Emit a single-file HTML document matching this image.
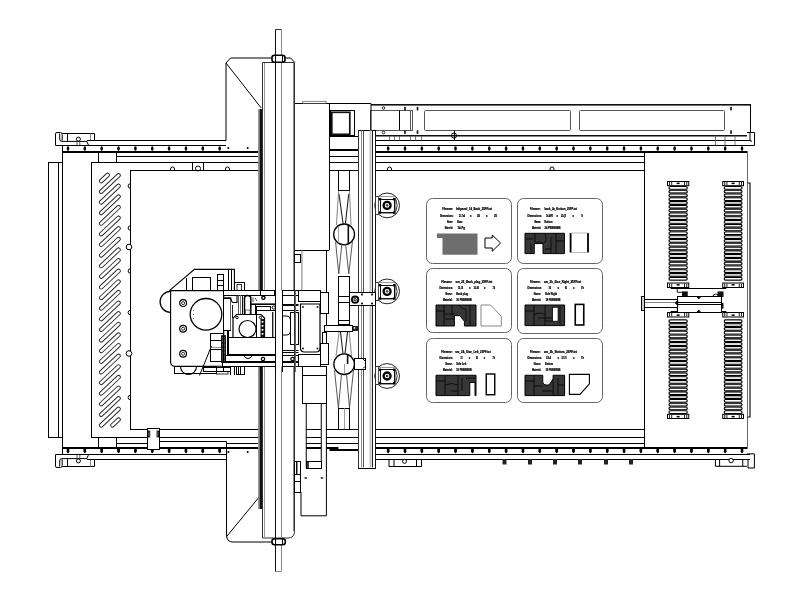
<!DOCTYPE html>
<html><head><meta charset="utf-8"><style>
html,body{margin:0;padding:0;background:#fff;width:800px;height:600px;overflow:hidden}
svg{display:block}
.t{font-family:"Liberation Sans",sans-serif;font-weight:bold}
</style></head><body>
<svg width="800" height="600" viewBox="0 0 800 600" style="will-change:transform">
<rect width="800" height="600" fill="#fff"/>
<ellipse cx="68.00" cy="148.5" rx="1.3" ry="2.2" fill="#000"/>
<path d="M67.00 448.5 H69.00 V452.5 Q68.00 454 67.00 452.5 Z" fill="#000"/>
<rect x="66.70" y="448.5" width="2.6" height="3.5" fill="#000"/>
<ellipse cx="84.85" cy="148.5" rx="1.3" ry="2.2" fill="#000"/>
<path d="M83.85 448.5 H85.85 V452.5 Q84.85 454 83.85 452.5 Z" fill="#000"/>
<rect x="83.55" y="448.5" width="2.6" height="3.5" fill="#000"/>
<ellipse cx="101.70" cy="148.5" rx="1.3" ry="2.2" fill="#000"/>
<path d="M100.70 448.5 H102.70 V452.5 Q101.70 454 100.70 452.5 Z" fill="#000"/>
<rect x="100.40" y="448.5" width="2.6" height="3.5" fill="#000"/>
<ellipse cx="118.55" cy="148.5" rx="1.3" ry="2.2" fill="#000"/>
<path d="M117.55 448.5 H119.55 V452.5 Q118.55 454 117.55 452.5 Z" fill="#000"/>
<rect x="117.25" y="448.5" width="2.6" height="3.5" fill="#000"/>
<ellipse cx="135.40" cy="148.5" rx="1.3" ry="2.2" fill="#000"/>
<path d="M134.40 448.5 H136.40 V452.5 Q135.40 454 134.40 452.5 Z" fill="#000"/>
<rect x="134.10" y="448.5" width="2.6" height="3.5" fill="#000"/>
<ellipse cx="152.25" cy="148.5" rx="1.3" ry="2.2" fill="#000"/>
<path d="M151.25 448.5 H153.25 V452.5 Q152.25 454 151.25 452.5 Z" fill="#000"/>
<rect x="150.95" y="448.5" width="2.6" height="3.5" fill="#000"/>
<ellipse cx="169.10" cy="148.5" rx="1.3" ry="2.2" fill="#000"/>
<path d="M168.10 448.5 H170.10 V452.5 Q169.10 454 168.10 452.5 Z" fill="#000"/>
<rect x="167.80" y="448.5" width="2.6" height="3.5" fill="#000"/>
<ellipse cx="185.95" cy="148.5" rx="1.3" ry="2.2" fill="#000"/>
<path d="M184.95 448.5 H186.95 V452.5 Q185.95 454 184.95 452.5 Z" fill="#000"/>
<rect x="184.65" y="448.5" width="2.6" height="3.5" fill="#000"/>
<ellipse cx="202.80" cy="148.5" rx="1.3" ry="2.2" fill="#000"/>
<path d="M201.80 448.5 H203.80 V452.5 Q202.80 454 201.80 452.5 Z" fill="#000"/>
<rect x="201.50" y="448.5" width="2.6" height="3.5" fill="#000"/>
<ellipse cx="219.65" cy="148.5" rx="1.3" ry="2.2" fill="#000"/>
<path d="M218.65 448.5 H220.65 V452.5 Q219.65 454 218.65 452.5 Z" fill="#000"/>
<rect x="218.35" y="448.5" width="2.6" height="3.5" fill="#000"/>
<ellipse cx="388.15" cy="148.5" rx="1.3" ry="2.2" fill="#000"/>
<path d="M387.15 448.5 H389.15 V452.5 Q388.15 454 387.15 452.5 Z" fill="#000"/>
<rect x="386.85" y="448.5" width="2.6" height="3.5" fill="#000"/>
<ellipse cx="405.00" cy="148.5" rx="1.3" ry="2.2" fill="#000"/>
<path d="M404.00 448.5 H406.00 V452.5 Q405.00 454 404.00 452.5 Z" fill="#000"/>
<rect x="403.70" y="448.5" width="2.6" height="3.5" fill="#000"/>
<ellipse cx="421.85" cy="148.5" rx="1.3" ry="2.2" fill="#000"/>
<path d="M420.85 448.5 H422.85 V452.5 Q421.85 454 420.85 452.5 Z" fill="#000"/>
<rect x="420.55" y="448.5" width="2.6" height="3.5" fill="#000"/>
<ellipse cx="438.70" cy="148.5" rx="1.3" ry="2.2" fill="#000"/>
<path d="M437.70 448.5 H439.70 V452.5 Q438.70 454 437.70 452.5 Z" fill="#000"/>
<rect x="437.40" y="448.5" width="2.6" height="3.5" fill="#000"/>
<ellipse cx="455.55" cy="148.5" rx="1.3" ry="2.2" fill="#000"/>
<path d="M454.55 448.5 H456.55 V452.5 Q455.55 454 454.55 452.5 Z" fill="#000"/>
<rect x="454.25" y="448.5" width="2.6" height="3.5" fill="#000"/>
<ellipse cx="472.40" cy="148.5" rx="1.3" ry="2.2" fill="#000"/>
<path d="M471.40 448.5 H473.40 V452.5 Q472.40 454 471.40 452.5 Z" fill="#000"/>
<rect x="471.10" y="448.5" width="2.6" height="3.5" fill="#000"/>
<ellipse cx="489.25" cy="148.5" rx="1.3" ry="2.2" fill="#000"/>
<path d="M488.25 448.5 H490.25 V452.5 Q489.25 454 488.25 452.5 Z" fill="#000"/>
<rect x="487.95" y="448.5" width="2.6" height="3.5" fill="#000"/>
<ellipse cx="506.10" cy="148.5" rx="1.3" ry="2.2" fill="#000"/>
<path d="M505.10 448.5 H507.10 V452.5 Q506.10 454 505.10 452.5 Z" fill="#000"/>
<rect x="504.80" y="448.5" width="2.6" height="3.5" fill="#000"/>
<ellipse cx="522.95" cy="148.5" rx="1.3" ry="2.2" fill="#000"/>
<path d="M521.95 448.5 H523.95 V452.5 Q522.95 454 521.95 452.5 Z" fill="#000"/>
<rect x="521.65" y="448.5" width="2.6" height="3.5" fill="#000"/>
<ellipse cx="539.80" cy="148.5" rx="1.3" ry="2.2" fill="#000"/>
<path d="M538.80 448.5 H540.80 V452.5 Q539.80 454 538.80 452.5 Z" fill="#000"/>
<rect x="538.50" y="448.5" width="2.6" height="3.5" fill="#000"/>
<ellipse cx="556.65" cy="148.5" rx="1.3" ry="2.2" fill="#000"/>
<path d="M555.65 448.5 H557.65 V452.5 Q556.65 454 555.65 452.5 Z" fill="#000"/>
<rect x="555.35" y="448.5" width="2.6" height="3.5" fill="#000"/>
<ellipse cx="573.50" cy="148.5" rx="1.3" ry="2.2" fill="#000"/>
<path d="M572.50 448.5 H574.50 V452.5 Q573.50 454 572.50 452.5 Z" fill="#000"/>
<rect x="572.20" y="448.5" width="2.6" height="3.5" fill="#000"/>
<ellipse cx="590.35" cy="148.5" rx="1.3" ry="2.2" fill="#000"/>
<path d="M589.35 448.5 H591.35 V452.5 Q590.35 454 589.35 452.5 Z" fill="#000"/>
<rect x="589.05" y="448.5" width="2.6" height="3.5" fill="#000"/>
<ellipse cx="607.20" cy="148.5" rx="1.3" ry="2.2" fill="#000"/>
<path d="M606.20 448.5 H608.20 V452.5 Q607.20 454 606.20 452.5 Z" fill="#000"/>
<rect x="605.90" y="448.5" width="2.6" height="3.5" fill="#000"/>
<ellipse cx="624.05" cy="148.5" rx="1.3" ry="2.2" fill="#000"/>
<path d="M623.05 448.5 H625.05 V452.5 Q624.05 454 623.05 452.5 Z" fill="#000"/>
<rect x="622.75" y="448.5" width="2.6" height="3.5" fill="#000"/>
<ellipse cx="640.90" cy="148.5" rx="1.3" ry="2.2" fill="#000"/>
<path d="M639.90 448.5 H641.90 V452.5 Q640.90 454 639.90 452.5 Z" fill="#000"/>
<rect x="639.60" y="448.5" width="2.6" height="3.5" fill="#000"/>
<ellipse cx="657.75" cy="148.5" rx="1.3" ry="2.2" fill="#000"/>
<path d="M656.75 448.5 H658.75 V452.5 Q657.75 454 656.75 452.5 Z" fill="#000"/>
<rect x="656.45" y="448.5" width="2.6" height="3.5" fill="#000"/>
<ellipse cx="674.60" cy="148.5" rx="1.3" ry="2.2" fill="#000"/>
<path d="M673.60 448.5 H675.60 V452.5 Q674.60 454 673.60 452.5 Z" fill="#000"/>
<rect x="673.30" y="448.5" width="2.6" height="3.5" fill="#000"/>
<ellipse cx="691.45" cy="148.5" rx="1.3" ry="2.2" fill="#000"/>
<path d="M690.45 448.5 H692.45 V452.5 Q691.45 454 690.45 452.5 Z" fill="#000"/>
<rect x="690.15" y="448.5" width="2.6" height="3.5" fill="#000"/>
<ellipse cx="708.30" cy="148.5" rx="1.3" ry="2.2" fill="#000"/>
<path d="M707.30 448.5 H709.30 V452.5 Q708.30 454 707.30 452.5 Z" fill="#000"/>
<rect x="707.00" y="448.5" width="2.6" height="3.5" fill="#000"/>
<ellipse cx="725.15" cy="148.5" rx="1.3" ry="2.2" fill="#000"/>
<path d="M724.15 448.5 H726.15 V452.5 Q725.15 454 724.15 452.5 Z" fill="#000"/>
<rect x="723.85" y="448.5" width="2.6" height="3.5" fill="#000"/>
<ellipse cx="742.00" cy="148.5" rx="1.3" ry="2.2" fill="#000"/>
<path d="M741.00 448.5 H743.00 V452.5 Q742.00 454 741.00 452.5 Z" fill="#000"/>
<rect x="740.70" y="448.5" width="2.6" height="3.5" fill="#000"/>
<g><path d="M55.5 145.5 V134 Q55.5 132.5 57 132.5 H60.5 Q62.2 132.5 62.2 134.5 V140.6 M59.7 133.5 V139 Q59.7 141.4 62 141.4 H86.9 L88.5 145.3 M62.2 133.5 H94.5 V140.5 M67.5 133.5 V141.4 M55.5 145.5 H88.5" stroke="#000" stroke-width="1" fill="none"/><path d="M90.5 133.5 V140.5" stroke="#888" stroke-width="1"/><circle cx="78.4" cy="139.1" r="2" stroke="#000" stroke-width="1" fill="#fff"/><path d="M77 141 V145.5 M79.8 141 V145.5" stroke="#333" stroke-width="0.8"/><line x1="86.9" y1="140.5" x2="226" y2="140.5" stroke="#000" stroke-width="1"/><line x1="62.5" y1="145.5" x2="226" y2="145.5" stroke="#000" stroke-width="1"/><line x1="62.5" y1="152" x2="258.5" y2="152" stroke="#000" stroke-width="2"/><line x1="375" y1="140.5" x2="750" y2="140.5" stroke="#000" stroke-width="1"/><line x1="375" y1="145.5" x2="750" y2="145.5" stroke="#000" stroke-width="1"/><line x1="375" y1="152" x2="747.5" y2="152" stroke="#000" stroke-width="2"/><ellipse cx="228.3" cy="148" rx="1" ry="1" fill="#000"/><ellipse cx="247.7" cy="148" rx="1" ry="1" fill="#000"/><line x1="329.5" y1="156.5" x2="358" y2="156.5" stroke="#000" stroke-width="1"/><line x1="375" y1="156.5" x2="644" y2="156.5" stroke="#000" stroke-width="1"/><line x1="91" y1="162.5" x2="258.5" y2="162.5" stroke="#000" stroke-width="1"/><line x1="329.5" y1="162.5" x2="358" y2="162.5" stroke="#000" stroke-width="1"/><line x1="375" y1="162.5" x2="644" y2="162.5" stroke="#000" stroke-width="1"/><line x1="98.5" y1="151.5" x2="98.5" y2="162.5" stroke="#000" stroke-width="1"/><line x1="116.5" y1="151.5" x2="116.5" y2="162.5" stroke="#000" stroke-width="1"/><line x1="130" y1="170.5" x2="258.5" y2="170.5" stroke="#000" stroke-width="1"/><line x1="329.5" y1="170.5" x2="358" y2="170.5" stroke="#000" stroke-width="1"/><line x1="375" y1="170.5" x2="644" y2="170.5" stroke="#000" stroke-width="1"/><line x1="329.5" y1="150" x2="358" y2="150" stroke="#000" stroke-width="2"/><line x1="48" y1="162.5" x2="62.5" y2="162.5" stroke="#000" stroke-width="1"/><rect x="667.5" y="181.5" width="21.25" height="4.2" fill="#fff" stroke="#000" stroke-width="1"/><rect x="669.00" y="182" width="1" height="3.2" fill="#222"/><rect x="671.20" y="182" width="1" height="3.2" fill="#222"/><rect x="684.05" y="182" width="1" height="3.2" fill="#222"/><rect x="686.25" y="182" width="1" height="3.2" fill="#222"/><rect x="676.625" y="182.6" width="3" height="1.5" fill="#000"/><rect x="669.0" y="186.50" width="18.25" height="2.7" rx="1.3" fill="#fff" stroke="#000" stroke-width="1.1"/><rect x="670.5" y="187.30" width="15.25" height="0.9" fill="#fff"/><rect x="669.0" y="190.29" width="18.25" height="2.7" rx="1.3" fill="#bdbdbd" stroke="#000" stroke-width="1.1"/><rect x="670.5" y="191.09" width="15.25" height="0.9" fill="#fff"/><rect x="669.0" y="194.07" width="18.25" height="2.7" rx="1.3" fill="#bdbdbd" stroke="#000" stroke-width="1.1"/><rect x="670.5" y="194.88" width="15.25" height="0.9" fill="#fff"/><rect x="669.0" y="197.86" width="18.25" height="2.7" rx="1.3" fill="#fff" stroke="#000" stroke-width="1.1"/><rect x="670.5" y="198.66" width="15.25" height="0.9" fill="#fff"/><rect x="669.0" y="201.65" width="18.25" height="2.7" rx="1.3" fill="#bdbdbd" stroke="#000" stroke-width="1.1"/><rect x="670.5" y="202.45" width="15.25" height="0.9" fill="#fff"/><rect x="669.0" y="205.44" width="18.25" height="2.7" rx="1.3" fill="#bdbdbd" stroke="#000" stroke-width="1.1"/><rect x="670.5" y="206.24" width="15.25" height="0.9" fill="#fff"/><rect x="669.0" y="209.22" width="18.25" height="2.7" rx="1.3" fill="#fff" stroke="#000" stroke-width="1.1"/><rect x="670.5" y="210.02" width="15.25" height="0.9" fill="#fff"/><rect x="669.0" y="213.01" width="18.25" height="2.7" rx="1.3" fill="#bdbdbd" stroke="#000" stroke-width="1.1"/><rect x="670.5" y="213.81" width="15.25" height="0.9" fill="#fff"/><rect x="669.0" y="216.80" width="18.25" height="2.7" rx="1.3" fill="#bdbdbd" stroke="#000" stroke-width="1.1"/><rect x="670.5" y="217.60" width="15.25" height="0.9" fill="#fff"/><rect x="669.0" y="220.59" width="18.25" height="2.7" rx="1.3" fill="#fff" stroke="#000" stroke-width="1.1"/><rect x="670.5" y="221.39" width="15.25" height="0.9" fill="#fff"/><rect x="669.0" y="224.37" width="18.25" height="2.7" rx="1.3" fill="#bdbdbd" stroke="#000" stroke-width="1.1"/><rect x="670.5" y="225.17" width="15.25" height="0.9" fill="#fff"/><rect x="669.0" y="228.16" width="18.25" height="2.7" rx="1.3" fill="#bdbdbd" stroke="#000" stroke-width="1.1"/><rect x="670.5" y="228.96" width="15.25" height="0.9" fill="#fff"/><rect x="669.0" y="231.95" width="18.25" height="2.7" rx="1.3" fill="#fff" stroke="#000" stroke-width="1.1"/><rect x="670.5" y="232.75" width="15.25" height="0.9" fill="#fff"/><rect x="669.0" y="235.74" width="18.25" height="2.7" rx="1.3" fill="#bdbdbd" stroke="#000" stroke-width="1.1"/><rect x="670.5" y="236.54" width="15.25" height="0.9" fill="#fff"/><rect x="669.0" y="239.52" width="18.25" height="2.7" rx="1.3" fill="#bdbdbd" stroke="#000" stroke-width="1.1"/><rect x="670.5" y="240.32" width="15.25" height="0.9" fill="#fff"/><rect x="669.0" y="243.31" width="18.25" height="2.7" rx="1.3" fill="#fff" stroke="#000" stroke-width="1.1"/><rect x="670.5" y="244.11" width="15.25" height="0.9" fill="#fff"/><rect x="669.0" y="247.10" width="18.25" height="2.7" rx="1.3" fill="#bdbdbd" stroke="#000" stroke-width="1.1"/><rect x="670.5" y="247.90" width="15.25" height="0.9" fill="#fff"/><rect x="669.0" y="250.89" width="18.25" height="2.7" rx="1.3" fill="#bdbdbd" stroke="#000" stroke-width="1.1"/><rect x="670.5" y="251.69" width="15.25" height="0.9" fill="#fff"/><rect x="669.0" y="254.67" width="18.25" height="2.7" rx="1.3" fill="#fff" stroke="#000" stroke-width="1.1"/><rect x="670.5" y="255.47" width="15.25" height="0.9" fill="#fff"/><rect x="669.0" y="258.46" width="18.25" height="2.7" rx="1.3" fill="#bdbdbd" stroke="#000" stroke-width="1.1"/><rect x="670.5" y="259.26" width="15.25" height="0.9" fill="#fff"/><rect x="669.0" y="262.25" width="18.25" height="2.7" rx="1.3" fill="#bdbdbd" stroke="#000" stroke-width="1.1"/><rect x="670.5" y="263.05" width="15.25" height="0.9" fill="#fff"/><rect x="669.0" y="266.04" width="18.25" height="2.7" rx="1.3" fill="#fff" stroke="#000" stroke-width="1.1"/><rect x="670.5" y="266.84" width="15.25" height="0.9" fill="#fff"/><rect x="669.0" y="269.82" width="18.25" height="2.7" rx="1.3" fill="#bdbdbd" stroke="#000" stroke-width="1.1"/><rect x="670.5" y="270.62" width="15.25" height="0.9" fill="#fff"/><rect x="669.0" y="273.61" width="18.25" height="2.7" rx="1.3" fill="#bdbdbd" stroke="#000" stroke-width="1.1"/><rect x="670.5" y="274.41" width="15.25" height="0.9" fill="#fff"/><rect x="669.0" y="277.40" width="18.25" height="2.7" rx="1.3" fill="#fff" stroke="#000" stroke-width="1.1"/><rect x="670.5" y="278.20" width="15.25" height="0.9" fill="#fff"/><rect x="667.5" y="283.0" width="21.25" height="4.5" fill="#fff" stroke="#000" stroke-width="1"/><rect x="669.00" y="283.5" width="1" height="3.5" fill="#222"/><rect x="671.20" y="283.5" width="1" height="3.5" fill="#222"/><rect x="684.05" y="283.5" width="1" height="3.5" fill="#222"/><rect x="686.25" y="283.5" width="1" height="3.5" fill="#222"/><rect x="676.625" y="284.1" width="3" height="1.5" fill="#000"/><rect x="722.75" y="181.5" width="20.75" height="4.2" fill="#fff" stroke="#000" stroke-width="1"/><rect x="724.25" y="182" width="1" height="3.2" fill="#222"/><rect x="726.45" y="182" width="1" height="3.2" fill="#222"/><rect x="738.80" y="182" width="1" height="3.2" fill="#222"/><rect x="741.00" y="182" width="1" height="3.2" fill="#222"/><rect x="731.625" y="182.6" width="3" height="1.5" fill="#000"/><rect x="724.25" y="186.50" width="17.75" height="2.7" rx="1.3" fill="#fff" stroke="#000" stroke-width="1.1"/><rect x="725.75" y="187.30" width="14.75" height="0.9" fill="#fff"/><rect x="724.25" y="190.29" width="17.75" height="2.7" rx="1.3" fill="#bdbdbd" stroke="#000" stroke-width="1.1"/><rect x="725.75" y="191.09" width="14.75" height="0.9" fill="#fff"/><rect x="724.25" y="194.07" width="17.75" height="2.7" rx="1.3" fill="#bdbdbd" stroke="#000" stroke-width="1.1"/><rect x="725.75" y="194.88" width="14.75" height="0.9" fill="#fff"/><rect x="724.25" y="197.86" width="17.75" height="2.7" rx="1.3" fill="#fff" stroke="#000" stroke-width="1.1"/><rect x="725.75" y="198.66" width="14.75" height="0.9" fill="#fff"/><rect x="724.25" y="201.65" width="17.75" height="2.7" rx="1.3" fill="#bdbdbd" stroke="#000" stroke-width="1.1"/><rect x="725.75" y="202.45" width="14.75" height="0.9" fill="#fff"/><rect x="724.25" y="205.44" width="17.75" height="2.7" rx="1.3" fill="#bdbdbd" stroke="#000" stroke-width="1.1"/><rect x="725.75" y="206.24" width="14.75" height="0.9" fill="#fff"/><rect x="724.25" y="209.22" width="17.75" height="2.7" rx="1.3" fill="#fff" stroke="#000" stroke-width="1.1"/><rect x="725.75" y="210.02" width="14.75" height="0.9" fill="#fff"/><rect x="724.25" y="213.01" width="17.75" height="2.7" rx="1.3" fill="#bdbdbd" stroke="#000" stroke-width="1.1"/><rect x="725.75" y="213.81" width="14.75" height="0.9" fill="#fff"/><rect x="724.25" y="216.80" width="17.75" height="2.7" rx="1.3" fill="#bdbdbd" stroke="#000" stroke-width="1.1"/><rect x="725.75" y="217.60" width="14.75" height="0.9" fill="#fff"/><rect x="724.25" y="220.59" width="17.75" height="2.7" rx="1.3" fill="#fff" stroke="#000" stroke-width="1.1"/><rect x="725.75" y="221.39" width="14.75" height="0.9" fill="#fff"/><rect x="724.25" y="224.37" width="17.75" height="2.7" rx="1.3" fill="#bdbdbd" stroke="#000" stroke-width="1.1"/><rect x="725.75" y="225.17" width="14.75" height="0.9" fill="#fff"/><rect x="724.25" y="228.16" width="17.75" height="2.7" rx="1.3" fill="#bdbdbd" stroke="#000" stroke-width="1.1"/><rect x="725.75" y="228.96" width="14.75" height="0.9" fill="#fff"/><rect x="724.25" y="231.95" width="17.75" height="2.7" rx="1.3" fill="#fff" stroke="#000" stroke-width="1.1"/><rect x="725.75" y="232.75" width="14.75" height="0.9" fill="#fff"/><rect x="724.25" y="235.74" width="17.75" height="2.7" rx="1.3" fill="#bdbdbd" stroke="#000" stroke-width="1.1"/><rect x="725.75" y="236.54" width="14.75" height="0.9" fill="#fff"/><rect x="724.25" y="239.52" width="17.75" height="2.7" rx="1.3" fill="#bdbdbd" stroke="#000" stroke-width="1.1"/><rect x="725.75" y="240.32" width="14.75" height="0.9" fill="#fff"/><rect x="724.25" y="243.31" width="17.75" height="2.7" rx="1.3" fill="#fff" stroke="#000" stroke-width="1.1"/><rect x="725.75" y="244.11" width="14.75" height="0.9" fill="#fff"/><rect x="724.25" y="247.10" width="17.75" height="2.7" rx="1.3" fill="#bdbdbd" stroke="#000" stroke-width="1.1"/><rect x="725.75" y="247.90" width="14.75" height="0.9" fill="#fff"/><rect x="724.25" y="250.89" width="17.75" height="2.7" rx="1.3" fill="#bdbdbd" stroke="#000" stroke-width="1.1"/><rect x="725.75" y="251.69" width="14.75" height="0.9" fill="#fff"/><rect x="724.25" y="254.67" width="17.75" height="2.7" rx="1.3" fill="#fff" stroke="#000" stroke-width="1.1"/><rect x="725.75" y="255.47" width="14.75" height="0.9" fill="#fff"/><rect x="724.25" y="258.46" width="17.75" height="2.7" rx="1.3" fill="#bdbdbd" stroke="#000" stroke-width="1.1"/><rect x="725.75" y="259.26" width="14.75" height="0.9" fill="#fff"/><rect x="724.25" y="262.25" width="17.75" height="2.7" rx="1.3" fill="#bdbdbd" stroke="#000" stroke-width="1.1"/><rect x="725.75" y="263.05" width="14.75" height="0.9" fill="#fff"/><rect x="724.25" y="266.04" width="17.75" height="2.7" rx="1.3" fill="#fff" stroke="#000" stroke-width="1.1"/><rect x="725.75" y="266.84" width="14.75" height="0.9" fill="#fff"/><rect x="724.25" y="269.82" width="17.75" height="2.7" rx="1.3" fill="#bdbdbd" stroke="#000" stroke-width="1.1"/><rect x="725.75" y="270.62" width="14.75" height="0.9" fill="#fff"/><rect x="724.25" y="273.61" width="17.75" height="2.7" rx="1.3" fill="#bdbdbd" stroke="#000" stroke-width="1.1"/><rect x="725.75" y="274.41" width="14.75" height="0.9" fill="#fff"/><rect x="724.25" y="277.40" width="17.75" height="2.7" rx="1.3" fill="#fff" stroke="#000" stroke-width="1.1"/><rect x="725.75" y="278.20" width="14.75" height="0.9" fill="#fff"/><rect x="722.75" y="283.0" width="20.75" height="4.5" fill="#fff" stroke="#000" stroke-width="1"/><rect x="724.25" y="283.5" width="1" height="3.5" fill="#222"/><rect x="726.45" y="283.5" width="1" height="3.5" fill="#222"/><rect x="738.80" y="283.5" width="1" height="3.5" fill="#222"/><rect x="741.00" y="283.5" width="1" height="3.5" fill="#222"/><rect x="731.625" y="284.1" width="3" height="1.5" fill="#000"/><line x1="670.7" y1="288.5" x2="726.2" y2="288.5" stroke="#000" stroke-width="1"/><path d="M677.25 288.3 V292.25 H682.5" stroke="#000" stroke-width="0.9" fill="none"/><rect x="682" y="291.4" width="5.75" height="5.6" fill="#111"/><path d="M712.75 297 A3 3 0 0 1 718.75 297" stroke="#000" stroke-width="0.9" fill="none"/><rect x="717.5" y="291.4" width="6" height="5.6" fill="#111"/></g>
<g transform="matrix(1 0 0 -1 0 600)"><path d="M55.5 145.5 V134 Q55.5 132.5 57 132.5 H60.5 Q62.2 132.5 62.2 134.5 V140.6 M59.7 133.5 V139 Q59.7 141.4 62 141.4 H86.9 L88.5 145.3 M62.2 133.5 H94.5 V140.5 M67.5 133.5 V141.4 M55.5 145.5 H88.5" stroke="#000" stroke-width="1" fill="none"/><path d="M90.5 133.5 V140.5" stroke="#888" stroke-width="1"/><circle cx="78.4" cy="139.1" r="2" stroke="#000" stroke-width="1" fill="#fff"/><path d="M77 141 V145.5 M79.8 141 V145.5" stroke="#333" stroke-width="0.8"/><line x1="86.9" y1="140.5" x2="226" y2="140.5" stroke="#000" stroke-width="1"/><line x1="62.5" y1="145.5" x2="226" y2="145.5" stroke="#000" stroke-width="1"/><line x1="62.5" y1="152" x2="258.5" y2="152" stroke="#000" stroke-width="2"/><line x1="375" y1="140.5" x2="750" y2="140.5" stroke="#000" stroke-width="1"/><line x1="375" y1="145.5" x2="750" y2="145.5" stroke="#000" stroke-width="1"/><line x1="375" y1="152" x2="747.5" y2="152" stroke="#000" stroke-width="2"/><ellipse cx="228.3" cy="148" rx="1" ry="1" fill="#000"/><ellipse cx="247.7" cy="148" rx="1" ry="1" fill="#000"/><line x1="329.5" y1="156.5" x2="358" y2="156.5" stroke="#000" stroke-width="1"/><line x1="375" y1="156.5" x2="644" y2="156.5" stroke="#000" stroke-width="1"/><line x1="91" y1="162.5" x2="258.5" y2="162.5" stroke="#000" stroke-width="1"/><line x1="329.5" y1="162.5" x2="358" y2="162.5" stroke="#000" stroke-width="1"/><line x1="375" y1="162.5" x2="644" y2="162.5" stroke="#000" stroke-width="1"/><line x1="98.5" y1="151.5" x2="98.5" y2="162.5" stroke="#000" stroke-width="1"/><line x1="116.5" y1="151.5" x2="116.5" y2="162.5" stroke="#000" stroke-width="1"/><line x1="130" y1="170.5" x2="258.5" y2="170.5" stroke="#000" stroke-width="1"/><line x1="329.5" y1="170.5" x2="358" y2="170.5" stroke="#000" stroke-width="1"/><line x1="375" y1="170.5" x2="644" y2="170.5" stroke="#000" stroke-width="1"/><line x1="329.5" y1="150" x2="358" y2="150" stroke="#000" stroke-width="2"/><line x1="48" y1="162.5" x2="62.5" y2="162.5" stroke="#000" stroke-width="1"/><rect x="667.5" y="181.5" width="21.25" height="4.2" fill="#fff" stroke="#000" stroke-width="1"/><rect x="669.00" y="182" width="1" height="3.2" fill="#222"/><rect x="671.20" y="182" width="1" height="3.2" fill="#222"/><rect x="684.05" y="182" width="1" height="3.2" fill="#222"/><rect x="686.25" y="182" width="1" height="3.2" fill="#222"/><rect x="676.625" y="182.6" width="3" height="1.5" fill="#000"/><rect x="669.0" y="186.50" width="18.25" height="2.7" rx="1.3" fill="#fff" stroke="#000" stroke-width="1.1"/><rect x="670.5" y="187.30" width="15.25" height="0.9" fill="#fff"/><rect x="669.0" y="190.29" width="18.25" height="2.7" rx="1.3" fill="#bdbdbd" stroke="#000" stroke-width="1.1"/><rect x="670.5" y="191.09" width="15.25" height="0.9" fill="#fff"/><rect x="669.0" y="194.07" width="18.25" height="2.7" rx="1.3" fill="#bdbdbd" stroke="#000" stroke-width="1.1"/><rect x="670.5" y="194.88" width="15.25" height="0.9" fill="#fff"/><rect x="669.0" y="197.86" width="18.25" height="2.7" rx="1.3" fill="#fff" stroke="#000" stroke-width="1.1"/><rect x="670.5" y="198.66" width="15.25" height="0.9" fill="#fff"/><rect x="669.0" y="201.65" width="18.25" height="2.7" rx="1.3" fill="#bdbdbd" stroke="#000" stroke-width="1.1"/><rect x="670.5" y="202.45" width="15.25" height="0.9" fill="#fff"/><rect x="669.0" y="205.44" width="18.25" height="2.7" rx="1.3" fill="#bdbdbd" stroke="#000" stroke-width="1.1"/><rect x="670.5" y="206.24" width="15.25" height="0.9" fill="#fff"/><rect x="669.0" y="209.22" width="18.25" height="2.7" rx="1.3" fill="#fff" stroke="#000" stroke-width="1.1"/><rect x="670.5" y="210.02" width="15.25" height="0.9" fill="#fff"/><rect x="669.0" y="213.01" width="18.25" height="2.7" rx="1.3" fill="#bdbdbd" stroke="#000" stroke-width="1.1"/><rect x="670.5" y="213.81" width="15.25" height="0.9" fill="#fff"/><rect x="669.0" y="216.80" width="18.25" height="2.7" rx="1.3" fill="#bdbdbd" stroke="#000" stroke-width="1.1"/><rect x="670.5" y="217.60" width="15.25" height="0.9" fill="#fff"/><rect x="669.0" y="220.59" width="18.25" height="2.7" rx="1.3" fill="#fff" stroke="#000" stroke-width="1.1"/><rect x="670.5" y="221.39" width="15.25" height="0.9" fill="#fff"/><rect x="669.0" y="224.37" width="18.25" height="2.7" rx="1.3" fill="#bdbdbd" stroke="#000" stroke-width="1.1"/><rect x="670.5" y="225.17" width="15.25" height="0.9" fill="#fff"/><rect x="669.0" y="228.16" width="18.25" height="2.7" rx="1.3" fill="#bdbdbd" stroke="#000" stroke-width="1.1"/><rect x="670.5" y="228.96" width="15.25" height="0.9" fill="#fff"/><rect x="669.0" y="231.95" width="18.25" height="2.7" rx="1.3" fill="#fff" stroke="#000" stroke-width="1.1"/><rect x="670.5" y="232.75" width="15.25" height="0.9" fill="#fff"/><rect x="669.0" y="235.74" width="18.25" height="2.7" rx="1.3" fill="#bdbdbd" stroke="#000" stroke-width="1.1"/><rect x="670.5" y="236.54" width="15.25" height="0.9" fill="#fff"/><rect x="669.0" y="239.52" width="18.25" height="2.7" rx="1.3" fill="#bdbdbd" stroke="#000" stroke-width="1.1"/><rect x="670.5" y="240.32" width="15.25" height="0.9" fill="#fff"/><rect x="669.0" y="243.31" width="18.25" height="2.7" rx="1.3" fill="#fff" stroke="#000" stroke-width="1.1"/><rect x="670.5" y="244.11" width="15.25" height="0.9" fill="#fff"/><rect x="669.0" y="247.10" width="18.25" height="2.7" rx="1.3" fill="#bdbdbd" stroke="#000" stroke-width="1.1"/><rect x="670.5" y="247.90" width="15.25" height="0.9" fill="#fff"/><rect x="669.0" y="250.89" width="18.25" height="2.7" rx="1.3" fill="#bdbdbd" stroke="#000" stroke-width="1.1"/><rect x="670.5" y="251.69" width="15.25" height="0.9" fill="#fff"/><rect x="669.0" y="254.67" width="18.25" height="2.7" rx="1.3" fill="#fff" stroke="#000" stroke-width="1.1"/><rect x="670.5" y="255.47" width="15.25" height="0.9" fill="#fff"/><rect x="669.0" y="258.46" width="18.25" height="2.7" rx="1.3" fill="#bdbdbd" stroke="#000" stroke-width="1.1"/><rect x="670.5" y="259.26" width="15.25" height="0.9" fill="#fff"/><rect x="669.0" y="262.25" width="18.25" height="2.7" rx="1.3" fill="#bdbdbd" stroke="#000" stroke-width="1.1"/><rect x="670.5" y="263.05" width="15.25" height="0.9" fill="#fff"/><rect x="669.0" y="266.04" width="18.25" height="2.7" rx="1.3" fill="#fff" stroke="#000" stroke-width="1.1"/><rect x="670.5" y="266.84" width="15.25" height="0.9" fill="#fff"/><rect x="669.0" y="269.82" width="18.25" height="2.7" rx="1.3" fill="#bdbdbd" stroke="#000" stroke-width="1.1"/><rect x="670.5" y="270.62" width="15.25" height="0.9" fill="#fff"/><rect x="669.0" y="273.61" width="18.25" height="2.7" rx="1.3" fill="#bdbdbd" stroke="#000" stroke-width="1.1"/><rect x="670.5" y="274.41" width="15.25" height="0.9" fill="#fff"/><rect x="669.0" y="277.40" width="18.25" height="2.7" rx="1.3" fill="#fff" stroke="#000" stroke-width="1.1"/><rect x="670.5" y="278.20" width="15.25" height="0.9" fill="#fff"/><rect x="667.5" y="283.0" width="21.25" height="4.5" fill="#fff" stroke="#000" stroke-width="1"/><rect x="669.00" y="283.5" width="1" height="3.5" fill="#222"/><rect x="671.20" y="283.5" width="1" height="3.5" fill="#222"/><rect x="684.05" y="283.5" width="1" height="3.5" fill="#222"/><rect x="686.25" y="283.5" width="1" height="3.5" fill="#222"/><rect x="676.625" y="284.1" width="3" height="1.5" fill="#000"/><rect x="722.75" y="181.5" width="20.75" height="4.2" fill="#fff" stroke="#000" stroke-width="1"/><rect x="724.25" y="182" width="1" height="3.2" fill="#222"/><rect x="726.45" y="182" width="1" height="3.2" fill="#222"/><rect x="738.80" y="182" width="1" height="3.2" fill="#222"/><rect x="741.00" y="182" width="1" height="3.2" fill="#222"/><rect x="731.625" y="182.6" width="3" height="1.5" fill="#000"/><rect x="724.25" y="186.50" width="17.75" height="2.7" rx="1.3" fill="#fff" stroke="#000" stroke-width="1.1"/><rect x="725.75" y="187.30" width="14.75" height="0.9" fill="#fff"/><rect x="724.25" y="190.29" width="17.75" height="2.7" rx="1.3" fill="#bdbdbd" stroke="#000" stroke-width="1.1"/><rect x="725.75" y="191.09" width="14.75" height="0.9" fill="#fff"/><rect x="724.25" y="194.07" width="17.75" height="2.7" rx="1.3" fill="#bdbdbd" stroke="#000" stroke-width="1.1"/><rect x="725.75" y="194.88" width="14.75" height="0.9" fill="#fff"/><rect x="724.25" y="197.86" width="17.75" height="2.7" rx="1.3" fill="#fff" stroke="#000" stroke-width="1.1"/><rect x="725.75" y="198.66" width="14.75" height="0.9" fill="#fff"/><rect x="724.25" y="201.65" width="17.75" height="2.7" rx="1.3" fill="#bdbdbd" stroke="#000" stroke-width="1.1"/><rect x="725.75" y="202.45" width="14.75" height="0.9" fill="#fff"/><rect x="724.25" y="205.44" width="17.75" height="2.7" rx="1.3" fill="#bdbdbd" stroke="#000" stroke-width="1.1"/><rect x="725.75" y="206.24" width="14.75" height="0.9" fill="#fff"/><rect x="724.25" y="209.22" width="17.75" height="2.7" rx="1.3" fill="#fff" stroke="#000" stroke-width="1.1"/><rect x="725.75" y="210.02" width="14.75" height="0.9" fill="#fff"/><rect x="724.25" y="213.01" width="17.75" height="2.7" rx="1.3" fill="#bdbdbd" stroke="#000" stroke-width="1.1"/><rect x="725.75" y="213.81" width="14.75" height="0.9" fill="#fff"/><rect x="724.25" y="216.80" width="17.75" height="2.7" rx="1.3" fill="#bdbdbd" stroke="#000" stroke-width="1.1"/><rect x="725.75" y="217.60" width="14.75" height="0.9" fill="#fff"/><rect x="724.25" y="220.59" width="17.75" height="2.7" rx="1.3" fill="#fff" stroke="#000" stroke-width="1.1"/><rect x="725.75" y="221.39" width="14.75" height="0.9" fill="#fff"/><rect x="724.25" y="224.37" width="17.75" height="2.7" rx="1.3" fill="#bdbdbd" stroke="#000" stroke-width="1.1"/><rect x="725.75" y="225.17" width="14.75" height="0.9" fill="#fff"/><rect x="724.25" y="228.16" width="17.75" height="2.7" rx="1.3" fill="#bdbdbd" stroke="#000" stroke-width="1.1"/><rect x="725.75" y="228.96" width="14.75" height="0.9" fill="#fff"/><rect x="724.25" y="231.95" width="17.75" height="2.7" rx="1.3" fill="#fff" stroke="#000" stroke-width="1.1"/><rect x="725.75" y="232.75" width="14.75" height="0.9" fill="#fff"/><rect x="724.25" y="235.74" width="17.75" height="2.7" rx="1.3" fill="#bdbdbd" stroke="#000" stroke-width="1.1"/><rect x="725.75" y="236.54" width="14.75" height="0.9" fill="#fff"/><rect x="724.25" y="239.52" width="17.75" height="2.7" rx="1.3" fill="#bdbdbd" stroke="#000" stroke-width="1.1"/><rect x="725.75" y="240.32" width="14.75" height="0.9" fill="#fff"/><rect x="724.25" y="243.31" width="17.75" height="2.7" rx="1.3" fill="#fff" stroke="#000" stroke-width="1.1"/><rect x="725.75" y="244.11" width="14.75" height="0.9" fill="#fff"/><rect x="724.25" y="247.10" width="17.75" height="2.7" rx="1.3" fill="#bdbdbd" stroke="#000" stroke-width="1.1"/><rect x="725.75" y="247.90" width="14.75" height="0.9" fill="#fff"/><rect x="724.25" y="250.89" width="17.75" height="2.7" rx="1.3" fill="#bdbdbd" stroke="#000" stroke-width="1.1"/><rect x="725.75" y="251.69" width="14.75" height="0.9" fill="#fff"/><rect x="724.25" y="254.67" width="17.75" height="2.7" rx="1.3" fill="#fff" stroke="#000" stroke-width="1.1"/><rect x="725.75" y="255.47" width="14.75" height="0.9" fill="#fff"/><rect x="724.25" y="258.46" width="17.75" height="2.7" rx="1.3" fill="#bdbdbd" stroke="#000" stroke-width="1.1"/><rect x="725.75" y="259.26" width="14.75" height="0.9" fill="#fff"/><rect x="724.25" y="262.25" width="17.75" height="2.7" rx="1.3" fill="#bdbdbd" stroke="#000" stroke-width="1.1"/><rect x="725.75" y="263.05" width="14.75" height="0.9" fill="#fff"/><rect x="724.25" y="266.04" width="17.75" height="2.7" rx="1.3" fill="#fff" stroke="#000" stroke-width="1.1"/><rect x="725.75" y="266.84" width="14.75" height="0.9" fill="#fff"/><rect x="724.25" y="269.82" width="17.75" height="2.7" rx="1.3" fill="#bdbdbd" stroke="#000" stroke-width="1.1"/><rect x="725.75" y="270.62" width="14.75" height="0.9" fill="#fff"/><rect x="724.25" y="273.61" width="17.75" height="2.7" rx="1.3" fill="#bdbdbd" stroke="#000" stroke-width="1.1"/><rect x="725.75" y="274.41" width="14.75" height="0.9" fill="#fff"/><rect x="724.25" y="277.40" width="17.75" height="2.7" rx="1.3" fill="#fff" stroke="#000" stroke-width="1.1"/><rect x="725.75" y="278.20" width="14.75" height="0.9" fill="#fff"/><rect x="722.75" y="283.0" width="20.75" height="4.5" fill="#fff" stroke="#000" stroke-width="1"/><rect x="724.25" y="283.5" width="1" height="3.5" fill="#222"/><rect x="726.45" y="283.5" width="1" height="3.5" fill="#222"/><rect x="738.80" y="283.5" width="1" height="3.5" fill="#222"/><rect x="741.00" y="283.5" width="1" height="3.5" fill="#222"/><rect x="731.625" y="284.1" width="3" height="1.5" fill="#000"/><line x1="670.7" y1="288.5" x2="726.2" y2="288.5" stroke="#000" stroke-width="1"/><path d="M677.25 288.3 V292.25 H682.5" stroke="#000" stroke-width="0.9" fill="none"/><rect x="682" y="291.4" width="5.75" height="5.6" fill="#111"/><path d="M712.75 297 A3 3 0 0 1 718.75 297" stroke="#000" stroke-width="0.9" fill="none"/><rect x="717.5" y="291.4" width="6" height="5.6" fill="#111"/></g>
<rect x="371" y="104" width="379.5" height="1.6" fill="#111" />
<line x1="750.5" y1="104" x2="750.5" y2="133" stroke="#000" stroke-width="1" />
<rect x="370.5" y="110.5" width="42" height="20" stroke="#555" stroke-width="1" fill="none" />
<line x1="399.5" y1="110.5" x2="399.5" y2="130" stroke="#000" stroke-width="1" />
<line x1="410.5" y1="110.5" x2="410.5" y2="130" stroke="#555" stroke-width="1" />
<rect x="424.5" y="110.5" width="146" height="20" stroke="#555" stroke-width="1" fill="none" rx="1"/>
<rect x="579.5" y="110.5" width="145" height="20" stroke="#555" stroke-width="1" fill="none" rx="1"/>
<rect x="404.2" y="106.8" width="1.6" height="3.6" fill="#111" />
<rect x="404.2" y="130.3" width="1.6" height="3.6" fill="#111" />
<rect x="416.7" y="106.8" width="1.6" height="3.6" fill="#111" />
<rect x="416.7" y="130.3" width="1.6" height="3.6" fill="#111" />
<rect x="730.2" y="106.8" width="1.6" height="3.6" fill="#111" />
<rect x="730.2" y="130.3" width="1.6" height="3.6" fill="#111" />
<circle cx="383.5" cy="108" r="1.3" stroke="#000" stroke-width="0.8" fill="none" />
<circle cx="383.5" cy="132.5" r="1.3" stroke="#000" stroke-width="0.8" fill="none" />
<circle cx="454" cy="135.6" r="2.6" stroke="#000" stroke-width="1" fill="none" />
<line x1="454.5" y1="130.5" x2="454.5" y2="141" stroke="#000" stroke-width="1" />
<rect x="375" y="135" width="372" height="1.5" fill="#111" />
<path d="M715.5 135.5 V145.5 M725 135.5 V145.5 M735 135.5 V145.5 M389.5 136 V140.5 M394.5 136 V140.5 M399.5 136 V140.5 M410.5 136 V140.5 M415.5 136 V140.5 M421.5 136 V140.5" stroke="#555" stroke-width="0.8" fill="none" />
<path d="M747 132.5 H754.5 V145.5 H747 M750 133 V141 H752" stroke="#000" stroke-width="1" fill="none" />
<rect x="192.5" y="162.5" width="11" height="8" stroke="#000" stroke-width="1" fill="none" />
<circle cx="198" cy="168.5" r="2.5" stroke="#000" stroke-width="1" fill="none" />
<path d="M170.5 171 V169 A2 2 0 0 1 174.5 169 V171" stroke="#000" stroke-width="1" fill="none" />
<path d="M225.5 171 V169 A2 2 0 0 1 229.5 169 V171" stroke="#000" stroke-width="1" fill="none" />
<path d="M387.5 171 V169 A2 2 0 0 1 391.5 169 V171" stroke="#000" stroke-width="1" fill="none" />
<path d="M550 171 V169 A2 2 0 0 1 554 169 V171" stroke="#000" stroke-width="1" fill="none" />
<rect x="147.5" y="428.5" width="12" height="21" stroke="#000" stroke-width="1" fill="#fff" />
<rect x="148.2" y="431" width="1.6" height="6" stroke="#000" stroke-width="0.8" fill="#888" />
<rect x="157" y="431" width="1.6" height="6" stroke="#000" stroke-width="0.8" fill="#888" />
<line x1="306.25" y1="429.5" x2="321.25" y2="429.5" stroke="#000" stroke-width="1" />
<line x1="326.4" y1="429.5" x2="338.4" y2="429.5" stroke="#000" stroke-width="1" />
<line x1="306.25" y1="437.5" x2="321.25" y2="437.5" stroke="#000" stroke-width="1" />
<line x1="326.4" y1="437.5" x2="338.4" y2="437.5" stroke="#000" stroke-width="1" />
<line x1="306.25" y1="443.5" x2="321.25" y2="443.5" stroke="#000" stroke-width="1" />
<line x1="326.4" y1="443.5" x2="338.4" y2="443.5" stroke="#000" stroke-width="1" />
<line x1="306.25" y1="448" x2="321.25" y2="448" stroke="#000" stroke-width="2" />
<line x1="326.4" y1="448" x2="338.4" y2="448" stroke="#000" stroke-width="2" />
<line x1="117" y1="156.5" x2="258.5" y2="156.5" stroke="#000" stroke-width="1" />
<line x1="117" y1="443.5" x2="147.25" y2="443.5" stroke="#000" stroke-width="1" />
<line x1="226.5" y1="443.5" x2="258.5" y2="443.5" stroke="#000" stroke-width="1" />
<line x1="159.75" y1="441.5" x2="226.5" y2="441.5" stroke="#000" stroke-width="1" />
<rect x="502.5" y="459" width="4" height="5.5" fill="#222" />
<rect x="528" y="459" width="4" height="5.5" fill="#222" />
<rect x="553" y="459" width="4" height="5.5" fill="#222" />
<rect x="578" y="459" width="4" height="5.5" fill="#222" />
<rect x="604" y="459" width="4" height="5.5" fill="#222" />
<rect x="629" y="459" width="4" height="5.5" fill="#222" />
<path d="M389 459.5 V466.5 H421.5 V459.5 M394 459.5 V466.5 M416.5 459.5 V466.5" stroke="#000" stroke-width="1" fill="none" />
<circle cx="404.5" cy="461.3" r="2" stroke="#000" stroke-width="1" fill="#fff" />
<path d="M715.4 459.5 V466.3 H746.9 M719.6 459.5 V466.3 M742.75 459.5 V466.3 M746.9 453.9 H754.4 V468 H748 V460" stroke="#000" stroke-width="1" fill="none" />
<circle cx="731.1" cy="460.6" r="2.2" stroke="#000" stroke-width="1" fill="#fff" />
<line x1="62.5" y1="145.5" x2="62.5" y2="454.5" stroke="#000" stroke-width="1" />
<rect x="48.5" y="162.5" width="14" height="275" stroke="#000" stroke-width="1" fill="none" />
<line x1="58.5" y1="162.5" x2="58.5" y2="437.5" stroke="#000" stroke-width="1" />
<line x1="91.5" y1="162.5" x2="91.5" y2="437.5" stroke="#000" stroke-width="1" />
<line x1="130.5" y1="171" x2="130.5" y2="429" stroke="#000" stroke-width="1" />
<line x1="644.5" y1="151.5" x2="644.5" y2="448.5" stroke="#000" stroke-width="1" />
<line x1="747.5" y1="151.5" x2="747.5" y2="448.5" stroke="#666" stroke-width="1" />
<path d="M747.5 183 H750 V417 H747.5" stroke="#111" stroke-width="1.2" fill="none" />
<path d="M130.3 183.8 A2.2 2.2 0 0 0 130.3 188.2" stroke="#000" stroke-width="1" fill="none" />
<path d="M130.3 225.8 A2.2 2.2 0 0 0 130.3 230.2" stroke="#000" stroke-width="1" fill="none" />
<path d="M130.3 268.8 A2.2 2.2 0 0 0 130.3 273.2" stroke="#000" stroke-width="1" fill="none" />
<path d="M130.3 310.3 A2.2 2.2 0 0 0 130.3 314.7" stroke="#000" stroke-width="1" fill="none" />
<path d="M130.3 395.3 A2.2 2.2 0 0 0 130.3 399.7" stroke="#000" stroke-width="1" fill="none" />
<circle cx="129" cy="353.5" r="2.8" stroke="#000" stroke-width="1" fill="#fff" />
<circle cx="129" cy="247" r="2.8" stroke="#000" stroke-width="1" fill="#fff" />
<path d="M101.25 181.00 L107.62 175.00 M101.25 191.62 L118.50 175.37 M101.25 202.24 L118.50 185.99 M101.25 212.86 L118.50 196.61 M101.25 223.48 L118.50 207.23 M101.25 234.10 L118.50 217.85 M101.25 244.72 L118.50 228.47 M101.25 255.34 L118.50 239.09 M101.25 265.96 L118.50 249.71 M101.25 276.58 L118.50 260.33 M101.25 287.20 L118.50 270.95 M101.25 297.82 L118.50 281.57 M101.25 308.44 L118.50 292.19 M101.25 319.06 L118.50 302.81 M101.25 329.68 L118.50 313.43 M101.25 340.30 L118.50 324.05 M101.25 350.92 L118.50 334.67 M101.25 361.54 L118.50 345.29 M101.25 372.16 L118.50 355.91 M101.25 382.78 L118.50 366.53 M101.25 393.40 L118.50 377.15 M101.25 404.02 L118.50 387.77 M101.25 414.64 L118.50 398.39 M101.25 425.26 L118.50 409.01 M112.48 425.30 L118.50 419.63" stroke="#222" stroke-width="4.5" fill="none" stroke-linecap="round"/>
<path d="M101.25 181.00 L107.62 175.00 M101.25 191.62 L118.50 175.37 M101.25 202.24 L118.50 185.99 M101.25 212.86 L118.50 196.61 M101.25 223.48 L118.50 207.23 M101.25 234.10 L118.50 217.85 M101.25 244.72 L118.50 228.47 M101.25 255.34 L118.50 239.09 M101.25 265.96 L118.50 249.71 M101.25 276.58 L118.50 260.33 M101.25 287.20 L118.50 270.95 M101.25 297.82 L118.50 281.57 M101.25 308.44 L118.50 292.19 M101.25 319.06 L118.50 302.81 M101.25 329.68 L118.50 313.43 M101.25 340.30 L118.50 324.05 M101.25 350.92 L118.50 334.67 M101.25 361.54 L118.50 345.29 M101.25 372.16 L118.50 355.91 M101.25 382.78 L118.50 366.53 M101.25 393.40 L118.50 377.15 M101.25 404.02 L118.50 387.77 M101.25 414.64 L118.50 398.39 M101.25 425.26 L118.50 409.01 M112.48 425.30 L118.50 419.63" stroke="#fff" stroke-width="2.7" fill="none" stroke-linecap="round"/>
<rect x="677.5" y="296.5" width="44" height="16" stroke="#000" stroke-width="1" fill="#fff" />
<line x1="677.7" y1="302.5" x2="721.4" y2="302.5" stroke="#000" stroke-width="1" />
<line x1="677.7" y1="304.5" x2="721.4" y2="304.5" stroke="#000" stroke-width="1" />
<path d="M697.2 297 L698.7 299 L700.2 297 Z M697.2 312 L698.7 310 L700.2 312 Z" stroke="#000" stroke-width="1" fill="#000" />
<rect x="644.5" y="299.5" width="33" height="8" stroke="#000" stroke-width="1" fill="#fff" />
<line x1="644.75" y1="302.5" x2="677.7" y2="302.5" stroke="#666" stroke-width="0.8" />
<rect x="641.5" y="296.5" width="3" height="14" stroke="#000" stroke-width="1" fill="#ccc" />
<path d="M675 303 L678 300 L678 306 Z" stroke="#000" stroke-width="0.5" fill="#000" />
<rect x="358.25" y="130" width="17.25" height="338" fill="#fff" />
<rect x="358.5" y="130.5" width="17" height="338" stroke="#000" stroke-width="1" fill="none" />
<line x1="361.5" y1="130.5" x2="361.5" y2="467.5" stroke="#888" stroke-width="1" />
<line x1="363.5" y1="130.5" x2="363.5" y2="467.5" stroke="#555" stroke-width="1" />
<line x1="372.5" y1="130.5" x2="372.5" y2="467.5" stroke="#222" stroke-width="1" />
<rect x="369.5" y="130.5" width="2" height="337" fill="#c4c4c4" />
<line x1="358.5" y1="130.2" x2="358.5" y2="468" stroke="#333" stroke-width="1" />
<line x1="375.5" y1="130.2" x2="375.5" y2="468" stroke="#111" stroke-width="1" />
<rect x="338.5" y="170.5" width="11" height="20" stroke="#000" stroke-width="1" fill="none" />
<path d="M339 194 L343.1 223.8 M348.75 194 L345.4 223.8" stroke="#222" stroke-width="1.1" fill="none" />
<path d="M338.6 191 L336.4 225 M349.5 191 L351 225" stroke="#666" stroke-width="0.8" fill="none" />
<circle cx="344.1" cy="234.4" r="10.4" stroke="#000" stroke-width="1.3" fill="none" />
<line x1="338.5" y1="226" x2="338.5" y2="243" stroke="#888" stroke-width="0.8" />
<line x1="348.3" y1="225" x2="348.3" y2="243" stroke="#111" stroke-width="1.6" />
<path d="M335.6 242 L338.75 273.75 M341.9 244 L338.75 273.75 M352.5 241 L348.75 273.75 M345.6 244 L348.75 273.75" stroke="#444" stroke-width="0.9" fill="none" />
<rect x="338.5" y="276.5" width="11" height="48" stroke="#000" stroke-width="1" fill="none" />
<line x1="338.4" y1="296.5" x2="349.75" y2="296.5" stroke="#000" stroke-width="1" />
<line x1="338.4" y1="302.5" x2="349.75" y2="302.5" stroke="#000" stroke-width="1" />
<line x1="338.4" y1="320.5" x2="349.75" y2="320.5" stroke="#000" stroke-width="1" />
<path d="M339 332 L336 356 M349.25 332 L351.5 356" stroke="#666" stroke-width="0.8" fill="none" />
<path d="M340.5 332 L343 353.8 M347.5 332 L345 353.8" stroke="#222" stroke-width="1.1" fill="none" />
<circle cx="344.1" cy="364.2" r="10.3" stroke="#000" stroke-width="1.3" fill="none" />
<line x1="344.5" y1="364" x2="344.5" y2="374" stroke="#888" stroke-width="0.8" />
<line x1="347.6" y1="355" x2="347.6" y2="364" stroke="#111" stroke-width="1.6" />
<path d="M334.5 370 L338.4 408 M341.5 374 L338.4 408 M353.5 370 L349.5 408 M346.5 374 L349.5 408" stroke="#444" stroke-width="0.9" fill="none" />
<rect x="338.5" y="408.5" width="11" height="21" stroke="#000" stroke-width="1" fill="none" />
<line x1="344.5" y1="408" x2="344.5" y2="429.3" stroke="#888" stroke-width="0.8" />
<rect x="324.5" y="325.5" width="28" height="6" stroke="#000" stroke-width="1" fill="#fff" />
<rect x="352.6" y="326" width="5.4" height="5" fill="#222" />
<rect x="353.8" y="327.2" width="1.5" height="1.5" fill="#fff" />
<circle cx="387.1" cy="205.4" r="12.4" stroke="#222" stroke-width="1" fill="#fff" />
<rect x="375.5" y="196.5" width="3" height="18" stroke="#333" stroke-width="1" fill="#fff" />
<rect x="378.3" y="196.7" width="17" height="17" stroke="#666" stroke-width="0.7" fill="none" />
<rect x="380.5" y="199.5" width="14" height="13" stroke="#111" stroke-width="1" fill="#fff" />
<rect x="378.8" y="198" width="2.4" height="2.4" fill="#000" />
<rect x="393" y="198" width="2.4" height="2.4" fill="#000" />
<rect x="378.8" y="211.3" width="2.4" height="2.4" fill="#000" />
<rect x="393" y="211.3" width="2.4" height="2.4" fill="#000" />
<circle cx="387.1" cy="205.4" r="3.5" stroke="#000" stroke-width="2.3" fill="none" />
<circle cx="387.1" cy="205.4" r="0.8" stroke="#000" stroke-width="1" fill="none" />
<path d="M395.8 199.4 Q398.6 205.4 395.8 211.4" stroke="#000" stroke-width="0.8" fill="none" />
<circle cx="387.1" cy="291.4" r="12.4" stroke="#222" stroke-width="1" fill="#fff" />
<rect x="375.5" y="282.5" width="3" height="18" stroke="#333" stroke-width="1" fill="#fff" />
<rect x="378.3" y="282.7" width="17" height="17" stroke="#666" stroke-width="0.7" fill="none" />
<rect x="380.5" y="285.5" width="14" height="13" stroke="#111" stroke-width="1" fill="#fff" />
<rect x="378.8" y="284" width="2.4" height="2.4" fill="#000" />
<rect x="393" y="284" width="2.4" height="2.4" fill="#000" />
<rect x="378.8" y="297.3" width="2.4" height="2.4" fill="#000" />
<rect x="393" y="297.3" width="2.4" height="2.4" fill="#000" />
<circle cx="387.1" cy="291.4" r="3.5" stroke="#000" stroke-width="2.3" fill="none" />
<circle cx="387.1" cy="291.4" r="0.8" stroke="#000" stroke-width="1" fill="none" />
<path d="M395.8 285.4 Q398.6 291.4 395.8 297.4" stroke="#000" stroke-width="0.8" fill="none" />
<circle cx="387.1" cy="376" r="12.4" stroke="#222" stroke-width="1" fill="#fff" />
<rect x="375.5" y="366.5" width="3" height="18" stroke="#333" stroke-width="1" fill="#fff" />
<rect x="378.3" y="367.3" width="17" height="17" stroke="#666" stroke-width="0.7" fill="none" />
<rect x="380.5" y="369.5" width="14" height="14" stroke="#111" stroke-width="1" fill="#fff" />
<rect x="378.8" y="368.6" width="2.4" height="2.4" fill="#000" />
<rect x="393" y="368.6" width="2.4" height="2.4" fill="#000" />
<rect x="378.8" y="381.9" width="2.4" height="2.4" fill="#000" />
<rect x="393" y="381.9" width="2.4" height="2.4" fill="#000" />
<circle cx="387.1" cy="376" r="3.5" stroke="#000" stroke-width="2.3" fill="none" />
<circle cx="387.1" cy="376" r="0.8" stroke="#000" stroke-width="1" fill="none" />
<path d="M395.8 370 Q398.6 376 395.8 382" stroke="#000" stroke-width="0.8" fill="none" />
<rect x="349.5" y="292.5" width="26" height="13" stroke="#000" stroke-width="1" fill="#fff" />
<circle cx="355.1" cy="299.7" r="3.2" stroke="#000" stroke-width="1.8" fill="none" />
<circle cx="355.1" cy="299.7" r="1.2" stroke="#000" stroke-width="1" fill="none" />
<rect x="361.1" y="293.6" width="1.8" height="1.8" fill="#000" />
<rect x="371.1" y="293.6" width="1.8" height="1.8" fill="#000" />
<rect x="361.1" y="302.6" width="1.8" height="1.8" fill="#000" />
<rect x="371.1" y="302.6" width="1.8" height="1.8" fill="#000" />
<rect x="354.5" y="358.5" width="11" height="11" stroke="#000" stroke-width="1" fill="#fff" />
<path d="M363 359 L365 361 M363 368.5 L365 366.5" stroke="#000" stroke-width="1" fill="none" />
<path d="M226 140.5 V63 L230.6 58 H272 M285 58 H290.6 L294.75 62.5 M226 63 L261.25 108" stroke="#000" stroke-width="1" fill="none" />
<path d="M226.5 446 V535 Q226.5 542 233 542 H272 M226.5 536.7 L260 496" stroke="#000" stroke-width="1" fill="none" />
<path d="M226.5 441.5 V446" stroke="#000" stroke-width="1" fill="none" />
<rect x="258.25" y="109" width="1.75" height="181.5" fill="#777" />
<rect x="260" y="109" width="2.75" height="181.5" fill="#111" />
<rect x="258.25" y="366.5" width="1.75" height="142.5" fill="#777" />
<rect x="260" y="366.5" width="2.75" height="142.5" fill="#111" />
<path d="M262.5 62.5 H294.5 V531 Q294.5 538 288 538 H262.5 Z" stroke="#333" stroke-width="1" fill="#fff" />
<line x1="264.5" y1="63" x2="264.5" y2="537" stroke="#999" stroke-width="1" />
<line x1="293.5" y1="63" x2="293.5" y2="531" stroke="#888" stroke-width="1" />
<path d="M275.5 29.5 V571.5 H281.5 V29.5 Z" stroke="#888" stroke-width="1" fill="none" />
<line x1="275.5" y1="29.5" x2="275.5" y2="571.5" stroke="#111" stroke-width="1" />
<line x1="275.5" y1="29.5" x2="281.5" y2="29.5" stroke="#333" stroke-width="1" />
<rect x="272" y="55.3" width="13" height="7" stroke="#000" stroke-width="1.6" fill="#fff" rx="2.5"/>
<line x1="275.5" y1="55.3" x2="275.5" y2="62.3" stroke="#000" stroke-width="1" />
<line x1="282.5" y1="55.3" x2="282.5" y2="62.3" stroke="#000" stroke-width="1" />
<rect x="272" y="538.7" width="13.3" height="6" stroke="#000" stroke-width="1.6" fill="#fff" rx="2.5"/>
<line x1="275.5" y1="538.7" x2="275.5" y2="544.7" stroke="#000" stroke-width="1" />
<line x1="282.5" y1="538.7" x2="282.5" y2="544.7" stroke="#000" stroke-width="1" />
<path d="M295 103.5 H371 V130" stroke="#000" stroke-width="1" fill="none" />
<rect x="302.75" y="101.3" width="23.25" height="2.2" stroke="#555" stroke-width="0.7" fill="none" />
<line x1="329.5" y1="103.5" x2="329.5" y2="250" stroke="#000" stroke-width="1" />
<rect x="330.5" y="110.5" width="24" height="25" stroke="#000" stroke-width="1" fill="none" />
<rect x="331.8" y="112.3" width="18" height="22" stroke="#111" stroke-width="1.7" fill="none" />
<line x1="329.3" y1="136.5" x2="358" y2="136.5" stroke="#000" stroke-width="1" />
<line x1="294.7" y1="250.5" x2="329.3" y2="250.5" stroke="#000" stroke-width="1" />
<rect x="294.5" y="254.5" width="6" height="8" stroke="#000" stroke-width="1" fill="none" />
<rect x="301.25" y="250.6" width="1.3" height="40" fill="#999" />
<line x1="326.5" y1="250.6" x2="326.5" y2="290.5" stroke="#000" stroke-width="1" />
<rect x="302.5" y="366.5" width="24" height="37" stroke="#000" stroke-width="1" fill="#fff" />
<line x1="302" y1="375.5" x2="326.4" y2="375.5" stroke="#000" stroke-width="1" />
<path d="M306.25 403.8 V468 M321.25 403.8 V468 M326.4 403.8 V515.8 H301 V492" stroke="#000" stroke-width="1" fill="none" />
<rect x="294.5" y="461.5" width="6" height="31" stroke="#000" stroke-width="1" fill="none" />
<line x1="295" y1="474.5" x2="300.6" y2="474.5" stroke="#000" stroke-width="1" />
<line x1="295" y1="481.5" x2="300.6" y2="481.5" stroke="#000" stroke-width="1" />
<rect x="296" y="462" width="1.5" height="13" fill="#111" />
<rect x="306.5" y="461.5" width="15" height="7" stroke="#000" stroke-width="1" fill="#fff" />
<line x1="308" y1="461.5" x2="308" y2="468" stroke="#000" stroke-width="1.5" />
<rect x="304.5" y="477.3" width="2.5" height="1.3" fill="#000" />
<rect x="320.7" y="477.3" width="2.5" height="1.3" fill="#000" />
<rect x="223.5" y="290.5" width="34.5" height="76" fill="#fff" />
<rect x="258" y="290.5" width="40.5" height="76" fill="#fff" />
<rect x="169" y="269" width="75" height="22" fill="#fff" />
<rect x="160" y="290" width="64" height="84" fill="#fff" />
<path d="M169.4 290.6 L194.4 269.4 H234.4 V290.6" stroke="#000" stroke-width="1.1" fill="#fff" />
<line x1="186.5" y1="278" x2="186.5" y2="290.6" stroke="#000" stroke-width="1" />
<rect x="192.5" y="277.5" width="18" height="13" stroke="#000" stroke-width="1" fill="none" />
<rect x="217.5" y="274.5" width="6" height="16" stroke="#000" stroke-width="1" fill="none" />
<line x1="217.5" y1="280.5" x2="223.75" y2="280.5" stroke="#000" stroke-width="1" />
<line x1="217.5" y1="285.5" x2="223.75" y2="285.5" stroke="#000" stroke-width="1" />
<line x1="228.5" y1="269.5" x2="228.5" y2="290.6" stroke="#000" stroke-width="1" />
<line x1="231.5" y1="269.5" x2="231.5" y2="290.6" stroke="#000" stroke-width="1" />
<rect x="234.5" y="282.5" width="10" height="8" stroke="#000" stroke-width="1" fill="#fff" />
<rect x="237" y="284.5" width="4.5" height="6" stroke="#000" stroke-width="0.8" fill="none" />
<path d="M170.6 290.6 H223.75 V366.25 H175 Q170.6 366.25 170.6 362 Z" stroke="#000" stroke-width="1.1" fill="#fff" />
<path d="M170.6 291.3 A10.5 10.5 0 0 0 170.6 312.3" stroke="#000" stroke-width="1.3" fill="none" />
<circle cx="183.1" cy="303.1" r="3.4" stroke="#000" stroke-width="1.2" fill="none" />
<circle cx="183.1" cy="303.1" r="1.5" stroke="#000" stroke-width="0.8" fill="none" />
<circle cx="183.1" cy="328.75" r="3.4" stroke="#000" stroke-width="1.2" fill="none" />
<circle cx="183.1" cy="328.75" r="1.5" stroke="#000" stroke-width="0.8" fill="none" />
<circle cx="183.1" cy="353.75" r="3.4" stroke="#000" stroke-width="1.2" fill="none" />
<circle cx="183.1" cy="353.75" r="1.5" stroke="#000" stroke-width="0.8" fill="none" />
<circle cx="206" cy="314.3" r="15.8" stroke="#000" stroke-width="1.3" fill="none" />
<rect x="193.2" y="310" width="0.8" height="0.8" fill="#333" />
<rect x="193.2" y="314" width="0.8" height="0.8" fill="#333" />
<rect x="193.2" y="318" width="0.8" height="0.8" fill="#333" />
<rect x="174.5" y="366.5" width="42" height="7" stroke="#000" stroke-width="1" fill="none" />
<path d="M180.5 366.5 A8 8 0 0 0 196.5 366.5" stroke="#000" stroke-width="1.1" fill="none" />
<line x1="199.5" y1="375.5" x2="211.5" y2="346" stroke="#000" stroke-width="1" />
<rect x="210.5" y="333.5" width="13" height="28" stroke="#000" stroke-width="1" fill="none" />
<line x1="210.6" y1="340.5" x2="223.75" y2="340.5" stroke="#000" stroke-width="1" />
<line x1="210.6" y1="347.5" x2="223.75" y2="347.5" stroke="#777" stroke-width="0.8" />
<line x1="210.6" y1="349.5" x2="223.75" y2="349.5" stroke="#000" stroke-width="1" />
<rect x="221.9" y="336" width="3.2" height="26" stroke="#000" stroke-width="1.6" fill="#fff" />
<rect x="222.6" y="338" width="1.8" height="1.8" fill="#000" />
<rect x="222.6" y="342" width="1.8" height="1.8" fill="#000" />
<rect x="222.6" y="346" width="1.8" height="1.8" fill="#000" />
<rect x="222.6" y="350" width="1.8" height="1.8" fill="#000" />
<rect x="222.6" y="354" width="1.8" height="1.8" fill="#000" />
<rect x="222.6" y="358" width="1.8" height="1.8" fill="#000" />
<rect x="223.5" y="290.5" width="51" height="5" stroke="#000" stroke-width="1" fill="#fff" />
<rect x="282.5" y="290.5" width="16" height="5" stroke="#000" stroke-width="1" fill="#fff" />
<line x1="260.5" y1="290.5" x2="260.5" y2="295.2" stroke="#000" stroke-width="1" />
<path d="M223.5 295.2 V372" stroke="#000" stroke-width="1" fill="none" />
<path d="M224.2 297.9 H230.8 Q231.5 302.5 233 302.5 H237 V295.5" stroke="#000" stroke-width="1.1" fill="none" />
<rect x="223.5" y="298.5" width="7" height="32" stroke="#000" stroke-width="1" fill="#fff" />
<line x1="230.5" y1="300" x2="230.5" y2="330" stroke="#777" stroke-width="0.8" />
<line x1="232.5" y1="305" x2="232.5" y2="318" stroke="#222" stroke-width="1" />
<line x1="238.5" y1="295.2" x2="238.5" y2="315" stroke="#555" stroke-width="1" />
<line x1="228" y1="331" x2="228" y2="355" stroke="#000" stroke-width="2" />
<line x1="240.5" y1="295.2" x2="240.5" y2="315" stroke="#777" stroke-width="1" />
<line x1="242.5" y1="295.2" x2="242.5" y2="315" stroke="#111" stroke-width="1" />
<line x1="251" y1="304.2" x2="275" y2="304.2" stroke="#000" stroke-width="1.6" />
<rect x="256.5" y="306.5" width="14" height="4" stroke="#000" stroke-width="1" fill="none" />
<circle cx="263.4" cy="297.8" r="1.6" stroke="#000" stroke-width="1.4" fill="none" />
<circle cx="273.75" cy="307.5" r="1.6" stroke="#000" stroke-width="1" fill="none" />
<path d="M253 297.5 V302 M255 298 L257 301" stroke="#333" stroke-width="0.9" fill="none" />
<path d="M244.5 314 V298 Q244.5 295.5 247.5 295.5 Q250.8 295.5 250.8 298 V314" stroke="#000" stroke-width="1.5" fill="none" />
<rect x="245.5" y="310" width="4.5" height="9" stroke="#555" stroke-width="0.8" fill="#fff" />
<line x1="255.5" y1="304" x2="255.5" y2="318" stroke="#000" stroke-width="1" />
<path d="M233 337.5 V318 L236.5 314.5 H261 L264.5 318 V337.5 Z" stroke="#000" stroke-width="1.2" fill="#fff" />
<circle cx="247.5" cy="329" r="8.5" stroke="#000" stroke-width="1.2" fill="none" />
<rect x="260.5" y="319" width="4" height="18" fill="#111" />
<rect x="261.6" y="321" width="1.8" height="1.6" fill="#fff" />
<rect x="261.6" y="325" width="1.8" height="1.6" fill="#fff" />
<rect x="261.6" y="329" width="1.8" height="1.6" fill="#fff" />
<rect x="261.6" y="333" width="1.8" height="1.6" fill="#fff" />
<circle cx="237" cy="317.5" r="1.2" stroke="#000" stroke-width="1" fill="none" />
<circle cx="260.5" cy="317.5" r="1.2" stroke="#000" stroke-width="1" fill="none" />
<rect x="256.5" y="310.5" width="19" height="27" stroke="#000" stroke-width="1" fill="none" />
<line x1="272.7" y1="312" x2="272.7" y2="337" stroke="#222" stroke-width="1.4" />
<rect x="228.5" y="337.5" width="47" height="17" stroke="#000" stroke-width="1" fill="#fff" />
<rect x="225.5" y="355.5" width="50" height="6" stroke="#000" stroke-width="1" fill="#fff" />
<circle cx="263" cy="359" r="1.7" stroke="#000" stroke-width="1.2" fill="none" />
<path d="M244 356 Q248 361 252 356" stroke="#000" stroke-width="1" fill="none" />
<rect x="222.5" y="362.5" width="53" height="4" stroke="#000" stroke-width="1" fill="#fff" />
<line x1="260.5" y1="366.5" x2="260.5" y2="372" stroke="#000" stroke-width="1" />
<rect x="203.5" y="367.5" width="27" height="4" stroke="#000" stroke-width="1" fill="none" />
<rect x="216.5" y="371.5" width="11.5" height="2.5" stroke="#000" stroke-width="0.8" fill="none" />
<line x1="230.5" y1="366.5" x2="230.5" y2="375" stroke="#000" stroke-width="1" />
<line x1="234.5" y1="366.5" x2="234.5" y2="375" stroke="#000" stroke-width="1" />
<line x1="238.5" y1="366.5" x2="238.5" y2="375" stroke="#000" stroke-width="1" />
<line x1="240.5" y1="366.5" x2="240.5" y2="375" stroke="#000" stroke-width="1" />
<rect x="236.5" y="366.5" width="8" height="8" stroke="#000" stroke-width="1" fill="none" />
<line x1="282" y1="304.5" x2="298.5" y2="304.5" stroke="#000" stroke-width="1" />
<line x1="282" y1="305.5" x2="298.5" y2="305.5" stroke="#000" stroke-width="1" />
<line x1="282" y1="310.5" x2="298.5" y2="310.5" stroke="#000" stroke-width="1" />
<path d="M282 316 H287 Q290.5 316 290.5 320 V331 Q290.5 335 287 335 H282" stroke="#000" stroke-width="1" fill="none" />
<rect x="290.5" y="312.5" width="8" height="32" stroke="#000" stroke-width="1" fill="none" />
<line x1="282" y1="350.5" x2="298.5" y2="350.5" stroke="#000" stroke-width="1" />
<line x1="282" y1="352.5" x2="298.5" y2="352.5" stroke="#000" stroke-width="1" />
<rect x="282.5" y="355.5" width="16" height="6" stroke="#000" stroke-width="1" fill="#fff" />
<circle cx="292.5" cy="359" r="1.7" stroke="#000" stroke-width="1.2" fill="none" />
<rect x="282.5" y="362.5" width="16" height="4" stroke="#000" stroke-width="1" fill="#fff" />
<line x1="275.5" y1="290" x2="275.5" y2="372" stroke="#000" stroke-width="1" />
<line x1="282.5" y1="290" x2="282.5" y2="372" stroke="#000" stroke-width="1" />
<rect x="298.5" y="290.5" width="22" height="11" stroke="#000" stroke-width="1" fill="#fff" />
<path d="M300.5 304 H320 V348 Q320 352 316 352 H304.5 Q300.5 352 300.5 348 Z" stroke="#000" stroke-width="1.2" fill="#fff" />
<rect x="302.2" y="306.2" width="1.6" height="1.6" fill="#000" />
<rect x="316.7" y="306.2" width="1.6" height="1.6" fill="#000" />
<rect x="302.2" y="347.7" width="1.6" height="1.6" fill="#000" />
<rect x="316.7" y="347.7" width="1.6" height="1.6" fill="#000" />
<rect x="320.5" y="292.5" width="8" height="21" stroke="#000" stroke-width="1" fill="#fff" />
<rect x="320.5" y="343.5" width="8" height="21" stroke="#000" stroke-width="1" fill="#fff" />
<rect x="322.5" y="332.5" width="4" height="11" stroke="#000" stroke-width="1" fill="none" />
<rect x="298.5" y="354.5" width="22" height="12" stroke="#000" stroke-width="1" fill="#fff" />
<line x1="326.5" y1="270" x2="326.5" y2="292.5" stroke="#000" stroke-width="1" />
<line x1="326.5" y1="313.5" x2="326.5" y2="325.5" stroke="#000" stroke-width="1" />
<line x1="294.5" y1="290.5" x2="294.5" y2="372" stroke="#333" stroke-width="1" />
<line x1="295.5" y1="290.5" x2="295.5" y2="372" stroke="#666" stroke-width="1" />
<rect x="426.5" y="198.5" width="85" height="65" stroke="#666" stroke-width="1" fill="#fff" rx="6"/>
<rect x="517.5" y="198.5" width="85" height="65" stroke="#666" stroke-width="1" fill="#fff" rx="6"/>
<rect x="426.5" y="268.5" width="85" height="64" stroke="#666" stroke-width="1" fill="#fff" rx="6"/>
<rect x="517.5" y="268.5" width="85" height="65" stroke="#666" stroke-width="1" fill="#fff" rx="6"/>
<rect x="426.5" y="338.5" width="85" height="64" stroke="#666" stroke-width="1" fill="#fff" rx="6"/>
<rect x="517.5" y="338.5" width="85" height="64" stroke="#666" stroke-width="1" fill="#fff" rx="6"/>
<text transform="translate(442.25 210.45000000000002) scale(0.25)" x="0" y="0" font-size="11.6" class="t" textLength="43.0" lengthAdjust="spacingAndGlyphs" fill="#000" stroke="#000" stroke-width="0.8">Filename:</text>
<text transform="translate(456 210.45000000000002) scale(0.25)" x="0" y="0" font-size="11.6" class="t" textLength="144" lengthAdjust="spacingAndGlyphs" fill="#000" stroke="#000" stroke-width="0.8">leftpanel_14_Back_25FF.txt</text>
<text transform="translate(440 216.65) scale(0.25)" x="0" y="0" font-size="11.6" class="t" textLength="54.0" lengthAdjust="spacingAndGlyphs" fill="#000" stroke="#000" stroke-width="0.8">Dimensions:</text>
<text transform="translate(458.75 216.65) scale(0.25)" x="0" y="0" font-size="11.6" class="t" textLength="25.0" lengthAdjust="spacingAndGlyphs" fill="#000" stroke="#000" stroke-width="0.8">11.7x4</text>
<text transform="translate(470 216.65) scale(0.25)" x="0" y="0" font-size="11.6" class="t" textLength="6.0" lengthAdjust="spacingAndGlyphs" fill="#000" stroke="#000" stroke-width="0.8">x</text>
<text transform="translate(477 216.65) scale(0.25)" x="0" y="0" font-size="11.6" class="t" textLength="12" lengthAdjust="spacingAndGlyphs" fill="#000" stroke="#000" stroke-width="0.8">36</text>
<text transform="translate(486 216.65) scale(0.25)" x="0" y="0" font-size="11.6" class="t" textLength="6.0" lengthAdjust="spacingAndGlyphs" fill="#000" stroke="#000" stroke-width="0.8">x</text>
<text transform="translate(494 216.65) scale(0.25)" x="0" y="0" font-size="11.6" class="t" textLength="12" lengthAdjust="spacingAndGlyphs" fill="#000" stroke="#000" stroke-width="0.8">25</text>
<text transform="translate(447 222.95000000000002) scale(0.25)" x="0" y="0" font-size="11.6" class="t" textLength="24" lengthAdjust="spacingAndGlyphs" fill="#000" stroke="#000" stroke-width="0.8">Name:</text>
<text transform="translate(457.25 222.95000000000002) scale(0.25)" x="0" y="0" font-size="11.6" class="t" textLength="21.0" lengthAdjust="spacingAndGlyphs" fill="#000" stroke="#000" stroke-width="0.8">Base</text>
<text transform="translate(444.75 229.05) scale(0.25)" x="0" y="0" font-size="11.6" class="t" textLength="33.0" lengthAdjust="spacingAndGlyphs" fill="#000" stroke="#000" stroke-width="0.8">Material:</text>
<text transform="translate(457.5 229.05) scale(0.25)" x="0" y="0" font-size="11.6" class="t" textLength="30.0" lengthAdjust="spacingAndGlyphs" fill="#000" stroke="#000" stroke-width="0.8">14.Fg</text>
<path d="M436.9 233.5 H477.5 V254.75 H442.5 V238 H436.9 Z" stroke="none" stroke-width="0" fill="#6e6e6e" />
<path d="M485 238 H492.25 V235 L500.6 243 L492.25 251.25 V248 H485 Z" stroke="#000" stroke-width="1" fill="#fff" />
<text transform="translate(530 210.45000000000002) scale(0.25)" x="0" y="0" font-size="11.6" class="t" textLength="42.40000000000009" lengthAdjust="spacingAndGlyphs" fill="#000" stroke="#000" stroke-width="0.8">Filename:</text>
<text transform="translate(544.4 210.45000000000002) scale(0.25)" x="0" y="0" font-size="11.6" class="t" textLength="130.0" lengthAdjust="spacingAndGlyphs" fill="#000" stroke="#000" stroke-width="0.8">back_2a_Bottom_25FF.txt</text>
<text transform="translate(527.5 216.65) scale(0.25)" x="0" y="0" font-size="11.6" class="t" textLength="57.59999999999991" lengthAdjust="spacingAndGlyphs" fill="#000" stroke="#000" stroke-width="0.8">Dimensions:</text>
<text transform="translate(546 216.65) scale(0.25)" x="0" y="0" font-size="11.6" class="t" textLength="28" lengthAdjust="spacingAndGlyphs" fill="#000" stroke="#000" stroke-width="0.8">16.4PE</text>
<text transform="translate(556.5 216.65) scale(0.25)" x="0" y="0" font-size="11.6" class="t" textLength="6.0" lengthAdjust="spacingAndGlyphs" fill="#000" stroke="#000" stroke-width="0.8">x</text>
<text transform="translate(561 216.65) scale(0.25)" x="0" y="0" font-size="11.6" class="t" textLength="20" lengthAdjust="spacingAndGlyphs" fill="#000" stroke="#000" stroke-width="0.8">23.Q8</text>
<text transform="translate(572.5 216.65) scale(0.25)" x="0" y="0" font-size="11.6" class="t" textLength="6.0" lengthAdjust="spacingAndGlyphs" fill="#000" stroke="#000" stroke-width="0.8">x</text>
<text transform="translate(581 216.65) scale(0.25)" x="0" y="0" font-size="11.6" class="t" textLength="8" lengthAdjust="spacingAndGlyphs" fill="#000" stroke="#000" stroke-width="0.8">7h</text>
<text transform="translate(534.4 222.95000000000002) scale(0.25)" x="0" y="0" font-size="11.6" class="t" textLength="26.40000000000009" lengthAdjust="spacingAndGlyphs" fill="#000" stroke="#000" stroke-width="0.8">Name:</text>
<text transform="translate(544.5 222.95000000000002) scale(0.25)" x="0" y="0" font-size="11.6" class="t" textLength="32.0" lengthAdjust="spacingAndGlyphs" fill="#000" stroke="#000" stroke-width="0.8">Bottom</text>
<text transform="translate(531.9 229.05) scale(0.25)" x="0" y="0" font-size="11.6" class="t" textLength="36.40000000000009" lengthAdjust="spacingAndGlyphs" fill="#000" stroke="#000" stroke-width="0.8">Material:</text>
<text transform="translate(544.5 229.05) scale(0.25)" x="0" y="0" font-size="11.6" class="t" textLength="64.40000000000009" lengthAdjust="spacingAndGlyphs" fill="#000" stroke="#000" stroke-width="0.8">24 PBBBBBB</text>
<path d="M525 233.3 H564.4 V253.6 H543 V243.6 H534.25 V253.6 H525 Z" stroke="#000" stroke-width="1" fill="#363636" />
<path d="M525 239 H533 M535 233.5 V243.6 M535 243.6 Q539 240 543 243.6 M545 233.5 Q548 241 543 243.6 M551 237 V253.6 M556 233.5 V253.6 M556 241 H564.4 M545 249 H551 M531 243.6 V253.6" stroke="#0a0a0a" stroke-width="0.9" fill="none" />
<path d="M570.6 233 V252.5 M588 233 V252.5" stroke="#000" stroke-width="1.8" fill="none" />
<path d="M570.6 233 H588 M570.6 252.5 H588" stroke="#aaa" stroke-width="0.8" fill="none" />
<text transform="translate(441.25 282.55) scale(0.25)" x="0" y="0" font-size="11.6" class="t" textLength="44.0" lengthAdjust="spacingAndGlyphs" fill="#000" stroke="#000" stroke-width="0.8">Filename:</text>
<text transform="translate(455.6 282.55) scale(0.25)" x="0" y="0" font-size="11.6" class="t" textLength="146.5999999999999" lengthAdjust="spacingAndGlyphs" fill="#000" stroke="#000" stroke-width="0.8">sm_26_Back_plag_25FF.txt</text>
<text transform="translate(439.4 288.8) scale(0.25)" x="0" y="0" font-size="11.6" class="t" textLength="54.40000000000009" lengthAdjust="spacingAndGlyphs" fill="#000" stroke="#000" stroke-width="0.8">Dimensions:</text>
<text transform="translate(458 288.8) scale(0.25)" x="0" y="0" font-size="11.6" class="t" textLength="20" lengthAdjust="spacingAndGlyphs" fill="#000" stroke="#000" stroke-width="0.8">15.16</text>
<text transform="translate(469 288.8) scale(0.25)" x="0" y="0" font-size="11.6" class="t" textLength="6.0" lengthAdjust="spacingAndGlyphs" fill="#000" stroke="#000" stroke-width="0.8">x</text>
<text transform="translate(473.75 288.8) scale(0.25)" x="0" y="0" font-size="11.6" class="t" textLength="21.0" lengthAdjust="spacingAndGlyphs" fill="#000" stroke="#000" stroke-width="0.8">22.86</text>
<text transform="translate(484 288.8) scale(0.25)" x="0" y="0" font-size="11.6" class="t" textLength="6.0" lengthAdjust="spacingAndGlyphs" fill="#000" stroke="#000" stroke-width="0.8">x</text>
<text transform="translate(492.5 288.8) scale(0.25)" x="0" y="0" font-size="11.6" class="t" textLength="10.0" lengthAdjust="spacingAndGlyphs" fill="#000" stroke="#000" stroke-width="0.8">74</text>
<text transform="translate(445.6 294.8) scale(0.25)" x="0" y="0" font-size="11.6" class="t" textLength="27.59999999999991" lengthAdjust="spacingAndGlyphs" fill="#000" stroke="#000" stroke-width="0.8">Name:</text>
<text transform="translate(456.25 294.8) scale(0.25)" x="0" y="0" font-size="11.6" class="t" textLength="47.0" lengthAdjust="spacingAndGlyphs" fill="#000" stroke="#000" stroke-width="0.8">Back plug</text>
<text transform="translate(443 301.05) scale(0.25)" x="0" y="0" font-size="11.6" class="t" textLength="38.0" lengthAdjust="spacingAndGlyphs" fill="#000" stroke="#000" stroke-width="0.8">Material:</text>
<text transform="translate(456.25 301.05) scale(0.25)" x="0" y="0" font-size="11.6" class="t" textLength="62.59999999999991" lengthAdjust="spacingAndGlyphs" fill="#000" stroke="#000" stroke-width="0.8">16 PBBBBBB</text>
<path d="M436 305 H476 V326 H464.4 V321.25 L459.75 315.6 H454.4 V326 H436 Z" stroke="#000" stroke-width="1" fill="#363636" />
<path d="M436 311 H445 M444 305 V326 M444 314 H454.4 M452 305 V315.6 M466 309 V321.25 M470 305 V326 M459 305 Q462 310 466 309 M445 319 H454.4" stroke="#0a0a0a" stroke-width="0.9" fill="none" />
<path d="M481 305 H490.6 L501.25 316.25 V326 H481 Z" stroke="#888" stroke-width="1" fill="none" />
<text transform="translate(530 282.55) scale(0.25)" x="0" y="0" font-size="11.6" class="t" textLength="42.40000000000009" lengthAdjust="spacingAndGlyphs" fill="#000" stroke="#000" stroke-width="0.8">Filename:</text>
<text transform="translate(544 282.55) scale(0.25)" x="0" y="0" font-size="11.6" class="t" textLength="148" lengthAdjust="spacingAndGlyphs" fill="#000" stroke="#000" stroke-width="0.8">sm_2b_Sise_Right_25FF.txt</text>
<text transform="translate(527.5 288.8) scale(0.25)" x="0" y="0" font-size="11.6" class="t" textLength="57.59999999999991" lengthAdjust="spacingAndGlyphs" fill="#000" stroke="#000" stroke-width="0.8">Dimensions:</text>
<text transform="translate(548.5 288.8) scale(0.25)" x="0" y="0" font-size="11.6" class="t" textLength="10.0" lengthAdjust="spacingAndGlyphs" fill="#000" stroke="#000" stroke-width="0.8">10</text>
<text transform="translate(557.5 288.8) scale(0.25)" x="0" y="0" font-size="11.6" class="t" textLength="6.0" lengthAdjust="spacingAndGlyphs" fill="#000" stroke="#000" stroke-width="0.8">x</text>
<text transform="translate(565 288.8) scale(0.25)" x="0" y="0" font-size="11.6" class="t" textLength="8" lengthAdjust="spacingAndGlyphs" fill="#000" stroke="#000" stroke-width="0.8">6</text>
<text transform="translate(573 288.8) scale(0.25)" x="0" y="0" font-size="11.6" class="t" textLength="6.0" lengthAdjust="spacingAndGlyphs" fill="#000" stroke="#000" stroke-width="0.8">x</text>
<text transform="translate(581 288.8) scale(0.25)" x="0" y="0" font-size="11.6" class="t" textLength="12" lengthAdjust="spacingAndGlyphs" fill="#000" stroke="#000" stroke-width="0.8">7h</text>
<text transform="translate(533.75 294.8) scale(0.25)" x="0" y="0" font-size="11.6" class="t" textLength="29.0" lengthAdjust="spacingAndGlyphs" fill="#000" stroke="#000" stroke-width="0.8">Name:</text>
<text transform="translate(545 294.8) scale(0.25)" x="0" y="0" font-size="11.6" class="t" textLength="47.59999999999991" lengthAdjust="spacingAndGlyphs" fill="#000" stroke="#000" stroke-width="0.8">Side Right</text>
<text transform="translate(531.9 301.05) scale(0.25)" x="0" y="0" font-size="11.6" class="t" textLength="36.40000000000009" lengthAdjust="spacingAndGlyphs" fill="#000" stroke="#000" stroke-width="0.8">Material:</text>
<text transform="translate(545.4 301.05) scale(0.25)" x="0" y="0" font-size="11.6" class="t" textLength="60.80000000000018" lengthAdjust="spacingAndGlyphs" fill="#000" stroke="#000" stroke-width="0.8">18 PBBBBBB</text>
<path d="M525 305 H564.6 V325.6 H525 Z" stroke="#000" stroke-width="1" fill="#363636" />
<path d="M525 311 H534 M534 305 V325.6 M534 315 Q540 311 545 315 M545 305 V325.6 M538 318 H552.5 M560 305 V325.6 M545 321 H552.5" stroke="#0a0a0a" stroke-width="0.9" fill="none" />
<rect x="552.5" y="307.25" width="5.6" height="14" stroke="#000" stroke-width="0.8" fill="#fff" />
<rect x="575.25" y="304.4" width="8.5" height="20.6" stroke="#000" stroke-width="1.6" fill="#fff" />
<text transform="translate(441.25 352.55) scale(0.25)" x="0" y="0" font-size="11.6" class="t" textLength="45.0" lengthAdjust="spacingAndGlyphs" fill="#000" stroke="#000" stroke-width="0.8">Filename:</text>
<text transform="translate(455.25 352.55) scale(0.25)" x="0" y="0" font-size="11.6" class="t" textLength="141.4000000000001" lengthAdjust="spacingAndGlyphs" fill="#000" stroke="#000" stroke-width="0.8">sm_2A_Sise_Left_25FF.txt</text>
<text transform="translate(439.4 358.8) scale(0.25)" x="0" y="0" font-size="11.6" class="t" textLength="54.40000000000009" lengthAdjust="spacingAndGlyphs" fill="#000" stroke="#000" stroke-width="0.8">Dimensions:</text>
<text transform="translate(460.5 358.8) scale(0.25)" x="0" y="0" font-size="11.6" class="t" textLength="8.0" lengthAdjust="spacingAndGlyphs" fill="#000" stroke="#000" stroke-width="0.8">10</text>
<text transform="translate(468.7 358.8) scale(0.25)" x="0" y="0" font-size="11.6" class="t" textLength="6.0" lengthAdjust="spacingAndGlyphs" fill="#000" stroke="#000" stroke-width="0.8">x</text>
<text transform="translate(476 358.8) scale(0.25)" x="0" y="0" font-size="11.6" class="t" textLength="8" lengthAdjust="spacingAndGlyphs" fill="#000" stroke="#000" stroke-width="0.8">6</text>
<text transform="translate(483.7 358.8) scale(0.25)" x="0" y="0" font-size="11.6" class="t" textLength="6.0" lengthAdjust="spacingAndGlyphs" fill="#000" stroke="#000" stroke-width="0.8">x</text>
<text transform="translate(492.5 358.8) scale(0.25)" x="0" y="0" font-size="11.6" class="t" textLength="10.0" lengthAdjust="spacingAndGlyphs" fill="#000" stroke="#000" stroke-width="0.8">7h</text>
<text transform="translate(445.6 364.8) scale(0.25)" x="0" y="0" font-size="11.6" class="t" textLength="27.59999999999991" lengthAdjust="spacingAndGlyphs" fill="#000" stroke="#000" stroke-width="0.8">Name:</text>
<text transform="translate(456.25 364.8) scale(0.25)" x="0" y="0" font-size="11.6" class="t" textLength="40.0" lengthAdjust="spacingAndGlyphs" fill="#000" stroke="#000" stroke-width="0.8">Side Left</text>
<text transform="translate(443 371.05) scale(0.25)" x="0" y="0" font-size="11.6" class="t" textLength="38.0" lengthAdjust="spacingAndGlyphs" fill="#000" stroke="#000" stroke-width="0.8">Material:</text>
<text transform="translate(456.25 371.05) scale(0.25)" x="0" y="0" font-size="11.6" class="t" textLength="62.59999999999991" lengthAdjust="spacingAndGlyphs" fill="#000" stroke="#000" stroke-width="0.8">18 PBBBBBB</text>
<path d="M436 375.25 H476 V395.6 H475 V382.5 H469.75 V395.6 H436 Z" stroke="#000" stroke-width="1" fill="#363636" />
<path d="M436 381 H445 M445 375.25 V395.6 M445 385 Q452 382 458 385 M458 375.25 V395.6 M462 378 V391 M466 378 H476 M451 391 H458" stroke="#0a0a0a" stroke-width="0.9" fill="none" />
<rect x="486.25" y="374" width="8.5" height="20.75" stroke="#000" stroke-width="1.4" fill="#fff" />
<text transform="translate(530 352.55) scale(0.25)" x="0" y="0" font-size="11.6" class="t" textLength="42.40000000000009" lengthAdjust="spacingAndGlyphs" fill="#000" stroke="#000" stroke-width="0.8">Filename:</text>
<text transform="translate(544 352.55) scale(0.25)" x="0" y="0" font-size="11.6" class="t" textLength="131.5999999999999" lengthAdjust="spacingAndGlyphs" fill="#000" stroke="#000" stroke-width="0.8">sm_2b_Bottom_25FF.txt</text>
<text transform="translate(527.5 358.8) scale(0.25)" x="0" y="0" font-size="11.6" class="t" textLength="57.59999999999991" lengthAdjust="spacingAndGlyphs" fill="#000" stroke="#000" stroke-width="0.8">Dimensions:</text>
<text transform="translate(546 358.8) scale(0.25)" x="0" y="0" font-size="11.6" class="t" textLength="20" lengthAdjust="spacingAndGlyphs" fill="#000" stroke="#000" stroke-width="0.8">18.4</text>
<text transform="translate(557.5 358.8) scale(0.25)" x="0" y="0" font-size="11.6" class="t" textLength="6.0" lengthAdjust="spacingAndGlyphs" fill="#000" stroke="#000" stroke-width="0.8">x</text>
<text transform="translate(561.5 358.8) scale(0.25)" x="0" y="0" font-size="11.6" class="t" textLength="20.0" lengthAdjust="spacingAndGlyphs" fill="#000" stroke="#000" stroke-width="0.8">22.76</text>
<text transform="translate(573 358.8) scale(0.25)" x="0" y="0" font-size="11.6" class="t" textLength="6.0" lengthAdjust="spacingAndGlyphs" fill="#000" stroke="#000" stroke-width="0.8">x</text>
<text transform="translate(581 358.8) scale(0.25)" x="0" y="0" font-size="11.6" class="t" textLength="12" lengthAdjust="spacingAndGlyphs" fill="#000" stroke="#000" stroke-width="0.8">7h</text>
<text transform="translate(533.75 364.8) scale(0.25)" x="0" y="0" font-size="11.6" class="t" textLength="29.0" lengthAdjust="spacingAndGlyphs" fill="#000" stroke="#000" stroke-width="0.8">Name:</text>
<text transform="translate(545 364.8) scale(0.25)" x="0" y="0" font-size="11.6" class="t" textLength="32.40000000000009" lengthAdjust="spacingAndGlyphs" fill="#000" stroke="#000" stroke-width="0.8">Bottom</text>
<text transform="translate(531.9 371.05) scale(0.25)" x="0" y="0" font-size="11.6" class="t" textLength="36.40000000000009" lengthAdjust="spacingAndGlyphs" fill="#000" stroke="#000" stroke-width="0.8">Material:</text>
<text transform="translate(545.4 371.05) scale(0.25)" x="0" y="0" font-size="11.6" class="t" textLength="60.80000000000018" lengthAdjust="spacingAndGlyphs" fill="#000" stroke="#000" stroke-width="0.8">18 PBBBBBB</text>
<path d="M525 375.25 H542.75 V382 Q542.75 385 546 385 H549 L553.1 379 V375.25 H564.6 V395.6 H525 Z" stroke="#000" stroke-width="1" fill="#363636" />
<path d="M525 381 H534 M534 375.25 V395.6 M534 386 H542.75 M553.1 379 V395.6 M558 378 V395.6 M558 385 H564.6 M542 391 H553" stroke="#0a0a0a" stroke-width="0.9" fill="none" />
<path d="M569.4 374.4 H589.4 V383.75 L580 394.4 H569.4 Z" stroke="#000" stroke-width="1.1" fill="#fff" />
</svg></body></html>
